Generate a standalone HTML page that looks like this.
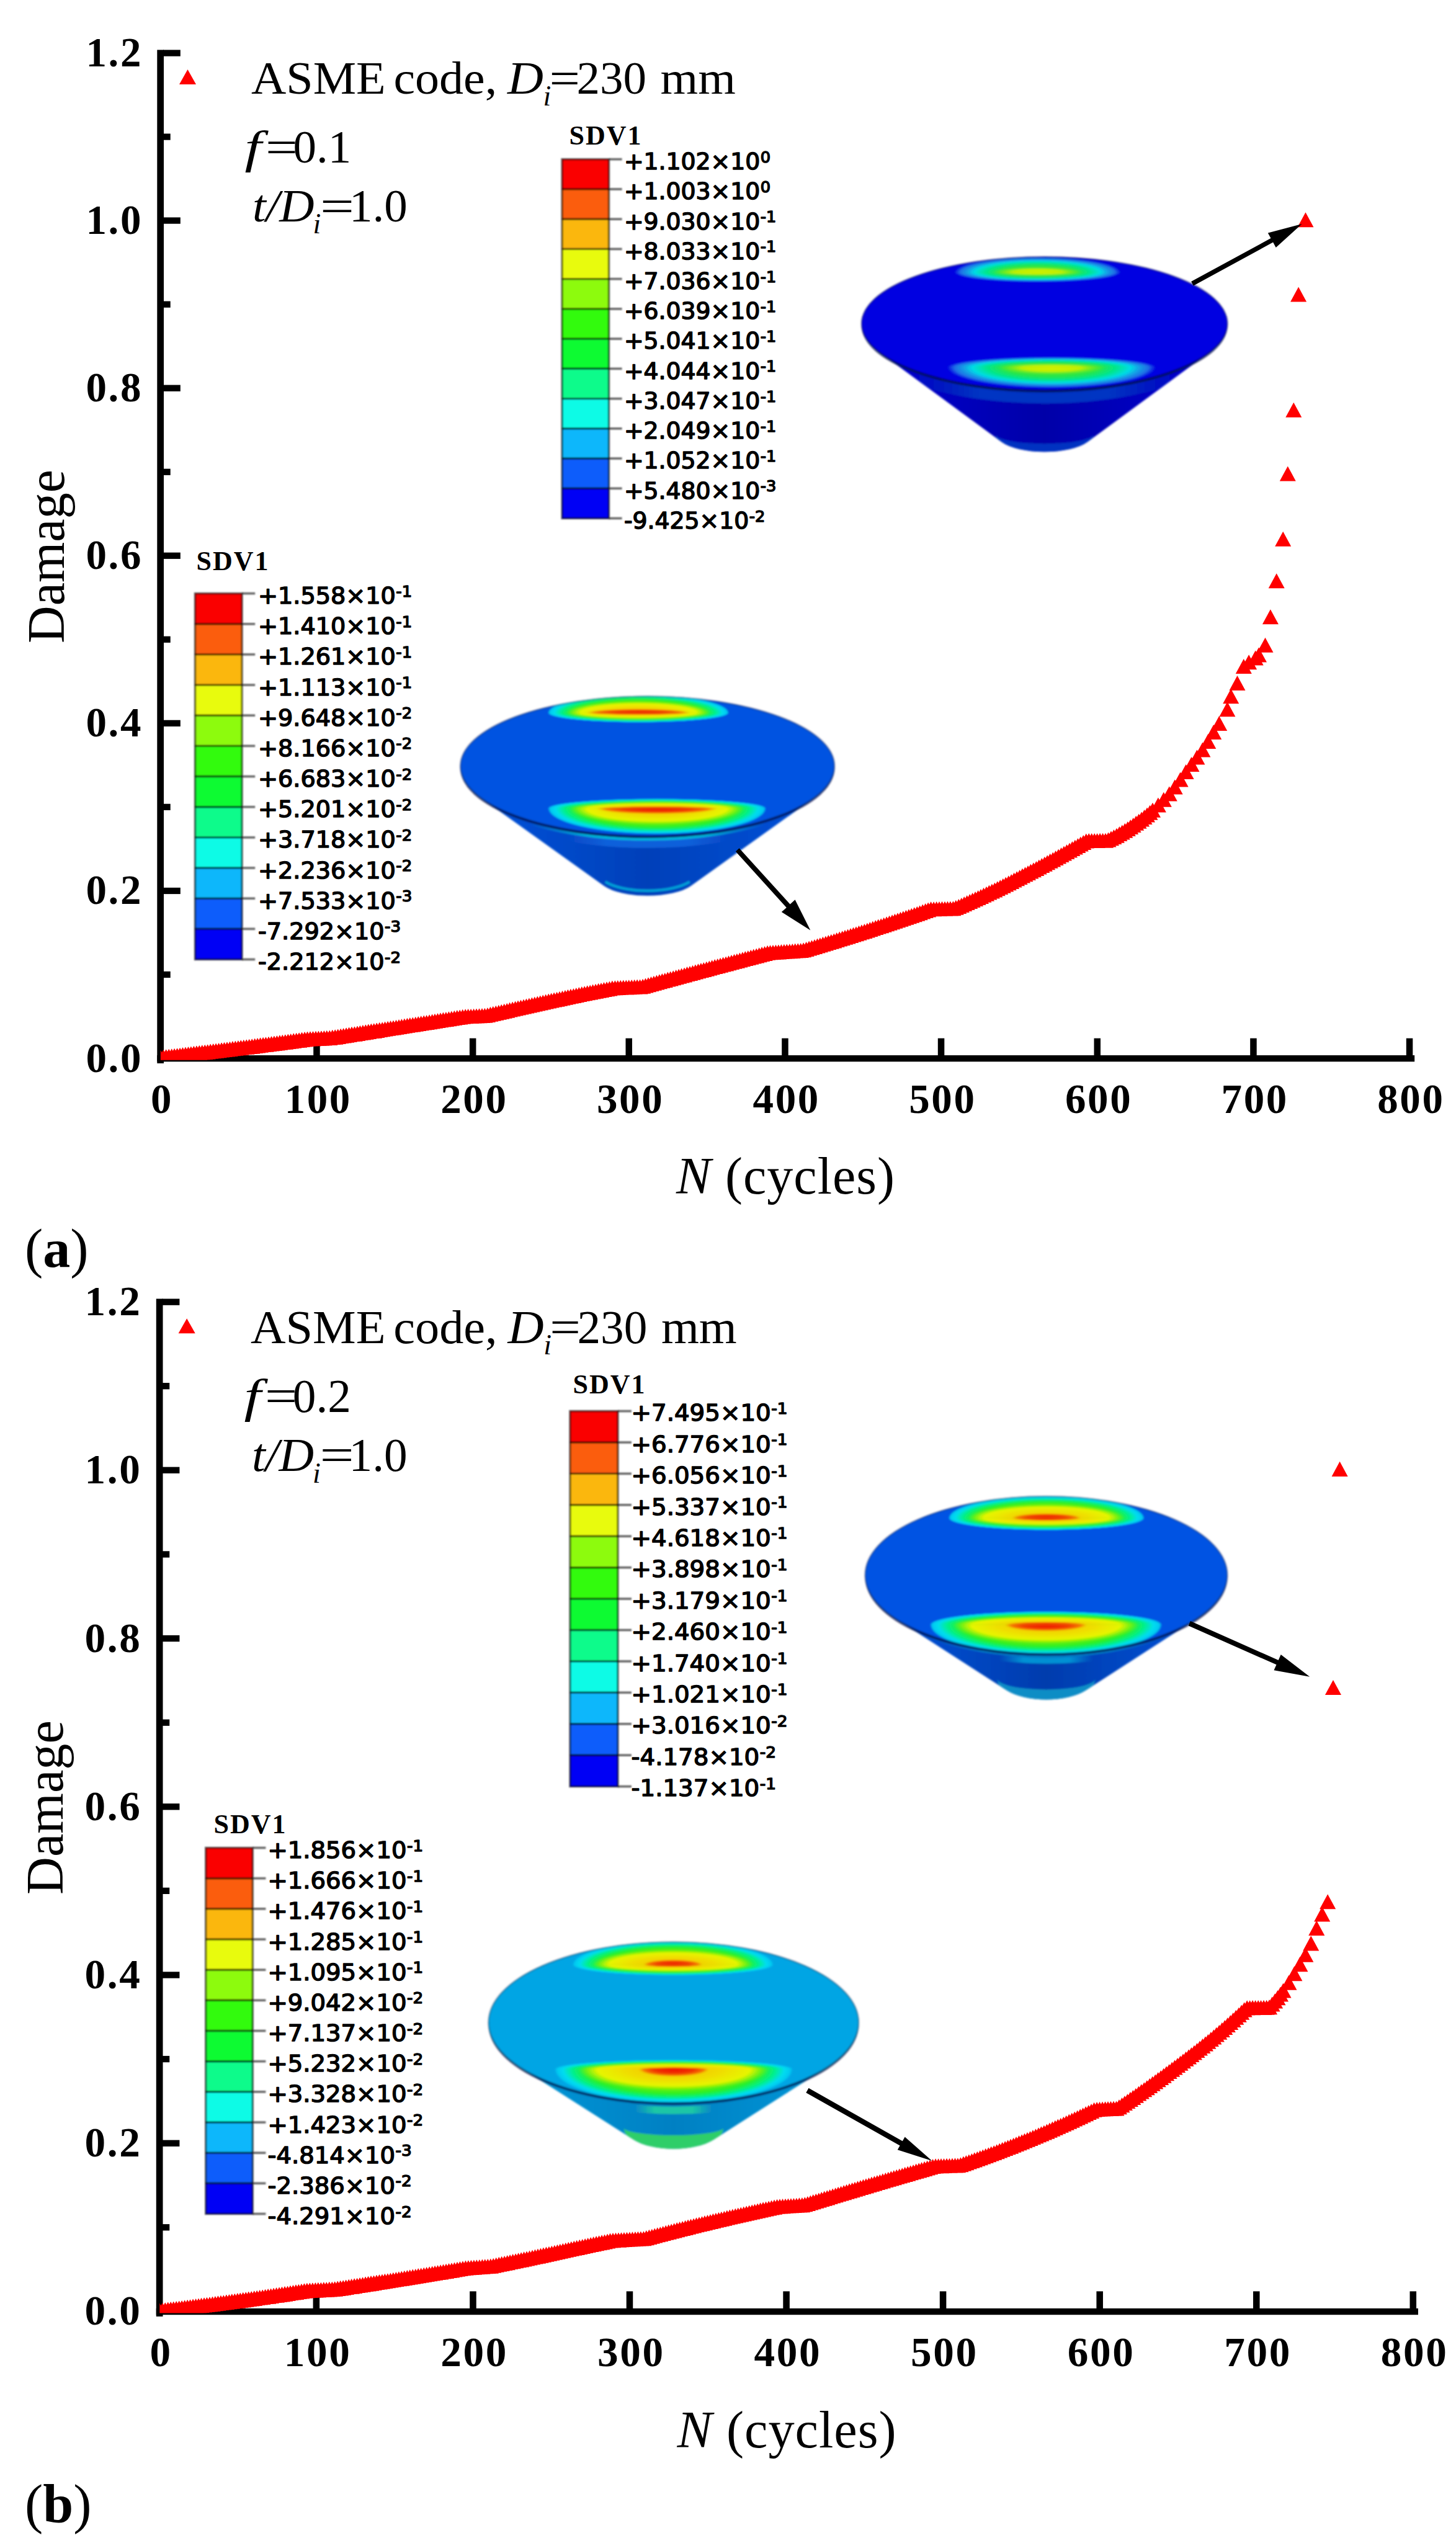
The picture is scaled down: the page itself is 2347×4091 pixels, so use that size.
<!DOCTYPE html>
<html lang="en"><head><meta charset="utf-8"><title>Damage evolution - ASME code</title>
<style>html,body{margin:0;padding:0;background:#fff}svg{display:block}</style></head><body>
<svg width="2347" height="4091" viewBox="0 0 2347 4091">
<defs>
<clipPath id="plotclip"><rect x="258.8" y="0" width="2100" height="1708.7"/></clipPath>
<filter id="soft" x="-5%" y="-5%" width="110%" height="110%"><feGaussianBlur stdDeviation="1.5"/></filter>
<filter id="soft2" x="-10%" y="-2%" width="150%" height="104%"><feGaussianBlur stdDeviation="0.9"/></filter>
<radialGradient id="rampGO"><stop offset="0" stop-color="#50e628"/><stop offset="0.45" stop-color="#28e646"/><stop offset="0.62" stop-color="#00e68c"/><stop offset="0.76" stop-color="#00dce6"/><stop offset="0.84" stop-color="#14a0e6"/><stop offset="0.93" stop-color="#1e6ee6"/><stop offset="1" stop-color="#1e6ee6" stop-opacity="0"/></radialGradient>
<radialGradient id="rampGM"><stop offset="0" stop-color="#d7f000"/><stop offset="0.55" stop-color="#c3f000"/><stop offset="1" stop-color="#78eb14" stop-opacity="0"/></radialGradient>
<radialGradient id="rampRO"><stop offset="0" stop-color="#a0f000"/><stop offset="0.55" stop-color="#78f000"/><stop offset="0.74" stop-color="#28f028"/><stop offset="0.85" stop-color="#00f08c"/><stop offset="0.93" stop-color="#00dcf0"/><stop offset="0.98" stop-color="#00c8f0"/><stop offset="1" stop-color="#00c8f0" stop-opacity="0"/></radialGradient>
<radialGradient id="rampRM"><stop offset="0" stop-color="#f5be00"/><stop offset="0.5" stop-color="#f0dc00"/><stop offset="0.8" stop-color="#e6f500"/><stop offset="1" stop-color="#b4f000" stop-opacity="0"/></radialGradient>
<radialGradient id="rampRC"><stop offset="0" stop-color="#f01000"/><stop offset="0.55" stop-color="#f03200"/><stop offset="0.85" stop-color="#f57800"/><stop offset="1" stop-color="#f5aa00" stop-opacity="0"/></radialGradient>
</defs>
<rect width="2347" height="4091" fill="#fff"/>
<g>
<g clip-path="url(#plotclip)"><path fill="#ff0000" d="M258.8 1692.6L271.8 1716.6L245.8 1716.6ZM263.3 1692.1L276.3 1716.1L250.3 1716.1ZM267.7 1691.6L280.7 1715.6L254.7 1715.6ZM272.2 1691L285.2 1715L259.2 1715ZM276.7 1690.5L289.7 1714.5L263.7 1714.5ZM281.1 1690L294.1 1714L268.1 1714ZM285.6 1689.4L298.6 1713.4L272.6 1713.4ZM290.1 1688.9L303.1 1712.9L277.1 1712.9ZM294.5 1688.3L307.5 1712.3L281.5 1712.3ZM299 1687.8L312 1711.8L286 1711.8ZM303.5 1687.2L316.5 1711.2L290.5 1711.2ZM307.9 1686.7L320.9 1710.7L294.9 1710.7ZM312.4 1686.1L325.4 1710.1L299.4 1710.1ZM316.9 1685.6L329.9 1709.6L303.9 1709.6ZM321.3 1685L334.3 1709L308.3 1709ZM325.8 1684.5L338.8 1708.5L312.8 1708.5ZM330.3 1683.9L343.3 1707.9L317.3 1707.9ZM334.7 1683.4L347.7 1707.4L321.7 1707.4ZM339.2 1682.8L352.2 1706.8L326.2 1706.8ZM343.7 1682.3L356.7 1706.3L330.7 1706.3ZM348.1 1681.7L361.1 1705.7L335.1 1705.7ZM352.6 1681.2L365.6 1705.2L339.6 1705.2ZM357.1 1680.6L370.1 1704.6L344.1 1704.6ZM361.5 1680L374.5 1704L348.5 1704ZM366 1679.5L379 1703.5L353 1703.5ZM370.5 1678.9L383.5 1702.9L357.5 1702.9ZM374.9 1678.3L387.9 1702.3L361.9 1702.3ZM379.4 1677.8L392.4 1701.8L366.4 1701.8ZM383.9 1677.2L396.9 1701.2L370.9 1701.2ZM388.3 1676.6L401.3 1700.6L375.3 1700.6ZM392.8 1676.1L405.8 1700.1L379.8 1700.1ZM397.3 1675.5L410.3 1699.5L384.3 1699.5ZM401.7 1674.9L414.7 1698.9L388.7 1698.9ZM406.2 1674.4L419.2 1698.4L393.2 1698.4ZM410.7 1673.8L423.7 1697.8L397.7 1697.8ZM415.1 1673.2L428.1 1697.2L402.1 1697.2ZM419.6 1672.6L432.6 1696.6L406.6 1696.6ZM424.1 1672.1L437.1 1696.1L411.1 1696.1ZM428.5 1671.5L441.5 1695.5L415.5 1695.5ZM433 1670.9L446 1694.9L420 1694.9ZM437.5 1670.3L450.5 1694.3L424.5 1694.3ZM441.9 1669.7L454.9 1693.7L428.9 1693.7ZM446.4 1669.2L459.4 1693.2L433.4 1693.2ZM450.9 1668.6L463.9 1692.6L437.9 1692.6ZM455.3 1668L468.3 1692L442.3 1692ZM459.8 1667.4L472.8 1691.4L446.8 1691.4ZM464.3 1666.8L477.3 1690.8L451.3 1690.8ZM468.7 1666.2L481.7 1690.2L455.7 1690.2ZM473.2 1665.6L486.2 1689.6L460.2 1689.6ZM477.7 1665L490.7 1689L464.7 1689ZM482.1 1664.4L495.1 1688.4L469.1 1688.4ZM486.6 1663.8L499.6 1687.8L473.6 1687.8ZM491.1 1663.2L504.1 1687.2L478.1 1687.2ZM495.5 1662.7L508.5 1686.7L482.5 1686.7ZM500 1662.4L513 1686.4L487 1686.4ZM504.5 1662.2L517.5 1686.2L491.5 1686.2ZM509 1662L522 1686L496 1686ZM513.4 1661.8L526.4 1685.8L500.4 1685.8ZM517.9 1661.5L530.9 1685.5L504.9 1685.5ZM522.4 1661.3L535.4 1685.3L509.4 1685.3ZM526.8 1661.1L539.8 1685.1L513.8 1685.1ZM531.3 1660.8L544.3 1684.8L518.3 1684.8ZM535.8 1660.1L548.8 1684.1L522.8 1684.1ZM540.2 1659.4L553.2 1683.4L527.2 1683.4ZM544.7 1658.7L557.7 1682.7L531.7 1682.7ZM549.2 1657.9L562.2 1681.9L536.2 1681.9ZM553.6 1657.2L566.6 1681.2L540.6 1681.2ZM558.1 1656.5L571.1 1680.5L545.1 1680.5ZM562.6 1655.8L575.6 1679.8L549.6 1679.8ZM567 1655.1L580 1679.1L554 1679.1ZM571.5 1654.4L584.5 1678.4L558.5 1678.4ZM576 1653.7L589 1677.7L563 1677.7ZM580.4 1652.9L593.4 1676.9L567.4 1676.9ZM584.9 1652.2L597.9 1676.2L571.9 1676.2ZM589.4 1651.5L602.4 1675.5L576.4 1675.5ZM593.8 1650.8L606.8 1674.8L580.8 1674.8ZM598.3 1650.1L611.3 1674.1L585.3 1674.1ZM602.8 1649.4L615.8 1673.4L589.8 1673.4ZM607.2 1648.7L620.2 1672.7L594.2 1672.7ZM611.7 1648L624.7 1672L598.7 1672ZM616.2 1647.2L629.2 1671.2L603.2 1671.2ZM620.6 1646.5L633.6 1670.5L607.6 1670.5ZM625.1 1645.8L638.1 1669.8L612.1 1669.8ZM629.6 1645.1L642.6 1669.1L616.6 1669.1ZM634 1644.4L647 1668.4L621 1668.4ZM638.5 1643.7L651.5 1667.7L625.5 1667.7ZM643 1643L656 1667L630 1667ZM647.4 1642.3L660.4 1666.3L634.4 1666.3ZM651.9 1641.6L664.9 1665.6L638.9 1665.6ZM656.4 1640.8L669.4 1664.8L643.4 1664.8ZM660.8 1640.1L673.8 1664.1L647.8 1664.1ZM665.3 1639.4L678.3 1663.4L652.3 1663.4ZM669.8 1638.7L682.8 1662.7L656.8 1662.7ZM674.2 1638L687.2 1662L661.2 1662ZM678.7 1637.3L691.7 1661.3L665.7 1661.3ZM683.2 1636.6L696.2 1660.6L670.2 1660.6ZM687.6 1635.9L700.6 1659.9L674.6 1659.9ZM692.1 1635.2L705.1 1659.2L679.1 1659.2ZM696.6 1634.5L709.6 1658.5L683.6 1658.5ZM701 1633.8L714 1657.8L688 1657.8ZM705.5 1633L718.5 1657L692.5 1657ZM710 1632.3L723 1656.3L697 1656.3ZM714.4 1631.6L727.4 1655.6L701.4 1655.6ZM718.9 1630.9L731.9 1654.9L705.9 1654.9ZM723.4 1630.2L736.4 1654.2L710.4 1654.2ZM727.8 1629.5L740.8 1653.5L714.8 1653.5ZM732.3 1628.8L745.3 1652.8L719.3 1652.8ZM736.8 1628.1L749.8 1652.1L723.8 1652.1ZM741.2 1627.4L754.2 1651.4L728.2 1651.4ZM745.7 1626.7L758.7 1650.7L732.7 1650.7ZM750.2 1626.3L763.2 1650.3L737.2 1650.3ZM754.6 1626.1L767.6 1650.1L741.6 1650.1ZM759.1 1625.9L772.1 1649.9L746.1 1649.9ZM763.6 1625.7L776.6 1649.7L750.6 1649.7ZM768 1625.4L781 1649.4L755 1649.4ZM772.5 1625.2L785.5 1649.2L759.5 1649.2ZM777 1625L790 1649L764 1649ZM781.4 1624.8L794.4 1648.8L768.4 1648.8ZM785.9 1623.9L798.9 1647.9L772.9 1647.9ZM790.4 1622.8L803.4 1646.8L777.4 1646.8ZM794.8 1621.8L807.8 1645.8L781.8 1645.8ZM799.3 1620.8L812.3 1644.8L786.3 1644.8ZM803.8 1619.7L816.8 1643.7L790.8 1643.7ZM808.2 1618.7L821.2 1642.7L795.2 1642.7ZM812.7 1617.7L825.7 1641.7L799.7 1641.7ZM817.2 1616.7L830.2 1640.7L804.2 1640.7ZM821.6 1615.6L834.6 1639.6L808.6 1639.6ZM826.1 1614.6L839.1 1638.6L813.1 1638.6ZM830.6 1613.6L843.6 1637.6L817.6 1637.6ZM835 1612.6L848 1636.6L822 1636.6ZM839.5 1611.6L852.5 1635.6L826.5 1635.6ZM844 1610.6L857 1634.6L831 1634.6ZM848.4 1609.6L861.4 1633.6L835.4 1633.6ZM852.9 1608.6L865.9 1632.6L839.9 1632.6ZM857.4 1607.6L870.4 1631.6L844.4 1631.6ZM861.8 1606.6L874.8 1630.6L848.8 1630.6ZM866.3 1605.6L879.3 1629.6L853.3 1629.6ZM870.8 1604.6L883.8 1628.6L857.8 1628.6ZM875.2 1603.6L888.2 1627.6L862.2 1627.6ZM879.7 1602.6L892.7 1626.6L866.7 1626.6ZM884.2 1601.6L897.2 1625.6L871.2 1625.6ZM888.6 1600.6L901.6 1624.6L875.6 1624.6ZM893.1 1599.6L906.1 1623.6L880.1 1623.6ZM897.6 1598.7L910.6 1622.7L884.6 1622.7ZM902 1597.7L915 1621.7L889 1621.7ZM906.5 1596.7L919.5 1620.7L893.5 1620.7ZM911 1595.7L924 1619.7L898 1619.7ZM915.4 1594.8L928.4 1618.8L902.4 1618.8ZM919.9 1593.8L932.9 1617.8L906.9 1617.8ZM924.4 1592.9L937.4 1616.9L911.4 1616.9ZM928.8 1592L941.8 1616L915.8 1616ZM933.3 1591L946.3 1615L920.3 1615ZM937.8 1590.1L950.8 1614.1L924.8 1614.1ZM942.2 1589.2L955.2 1613.2L929.2 1613.2ZM946.7 1588.3L959.7 1612.3L933.7 1612.3ZM951.2 1587.4L964.2 1611.4L938.2 1611.4ZM955.6 1586.6L968.6 1610.6L942.6 1610.6ZM960.1 1585.7L973.1 1609.7L947.1 1609.7ZM964.6 1584.8L977.6 1608.8L951.6 1608.8ZM969 1584L982 1608L956 1608ZM973.5 1583.1L986.5 1607.1L960.5 1607.1ZM978 1582.3L991 1606.3L965 1606.3ZM982.4 1581.4L995.4 1605.4L969.4 1605.4ZM986.9 1580.6L999.9 1604.6L973.9 1604.6ZM991.4 1580.2L1004.4 1604.2L978.4 1604.2ZM995.8 1580L1008.8 1604L982.8 1604ZM1000.3 1579.8L1013.3 1603.8L987.3 1603.8ZM1004.8 1579.6L1017.8 1603.6L991.8 1603.6ZM1009.3 1579.4L1022.3 1603.4L996.3 1603.4ZM1013.7 1579.2L1026.7 1603.2L1000.7 1603.2ZM1018.2 1579L1031.2 1603L1005.2 1603ZM1022.7 1578.8L1035.7 1602.8L1009.7 1602.8ZM1027.1 1578.6L1040.1 1602.6L1014.1 1602.6ZM1031.6 1578.4L1044.6 1602.4L1018.6 1602.4ZM1036.1 1577.7L1049.1 1601.7L1023.1 1601.7ZM1040.5 1576.4L1053.5 1600.4L1027.5 1600.4ZM1045 1575.2L1058 1599.2L1032 1599.2ZM1049.5 1574L1062.5 1598L1036.5 1598ZM1053.9 1572.8L1066.9 1596.8L1040.9 1596.8ZM1058.4 1571.5L1071.4 1595.5L1045.4 1595.5ZM1062.9 1570.3L1075.9 1594.3L1049.9 1594.3ZM1067.3 1569.1L1080.3 1593.1L1054.3 1593.1ZM1071.8 1567.9L1084.8 1591.9L1058.8 1591.9ZM1076.3 1566.6L1089.3 1590.6L1063.3 1590.6ZM1080.7 1565.4L1093.7 1589.4L1067.7 1589.4ZM1085.2 1564.2L1098.2 1588.2L1072.2 1588.2ZM1089.7 1563L1102.7 1587L1076.7 1587ZM1094.1 1561.8L1107.1 1585.8L1081.1 1585.8ZM1098.6 1560.6L1111.6 1584.6L1085.6 1584.6ZM1103.1 1559.4L1116.1 1583.4L1090.1 1583.4ZM1107.5 1558.1L1120.5 1582.1L1094.5 1582.1ZM1112 1556.9L1125 1580.9L1099 1580.9ZM1116.5 1555.7L1129.5 1579.7L1103.5 1579.7ZM1120.9 1554.5L1133.9 1578.5L1107.9 1578.5ZM1125.4 1553.3L1138.4 1577.3L1112.4 1577.3ZM1129.9 1552.1L1142.9 1576.1L1116.9 1576.1ZM1134.3 1550.9L1147.3 1574.9L1121.3 1574.9ZM1138.8 1549.7L1151.8 1573.7L1125.8 1573.7ZM1143.3 1548.5L1156.3 1572.5L1130.3 1572.5ZM1147.7 1547.3L1160.7 1571.3L1134.7 1571.3ZM1152.2 1546.1L1165.2 1570.1L1139.2 1570.1ZM1156.7 1545L1169.7 1569L1143.7 1569ZM1161.1 1543.8L1174.1 1567.8L1148.1 1567.8ZM1165.6 1542.6L1178.6 1566.6L1152.6 1566.6ZM1170.1 1541.4L1183.1 1565.4L1157.1 1565.4ZM1174.5 1540.2L1187.5 1564.2L1161.5 1564.2ZM1179 1539L1192 1563L1166 1563ZM1183.5 1537.8L1196.5 1561.8L1170.5 1561.8ZM1187.9 1536.7L1200.9 1560.7L1174.9 1560.7ZM1192.4 1535.5L1205.4 1559.5L1179.4 1559.5ZM1196.9 1534.3L1209.9 1558.3L1183.9 1558.3ZM1201.3 1533.1L1214.3 1557.1L1188.3 1557.1ZM1205.8 1531.9L1218.8 1555.9L1192.8 1555.9ZM1210.3 1530.8L1223.3 1554.8L1197.3 1554.8ZM1214.7 1529.6L1227.7 1553.6L1201.7 1553.6ZM1219.2 1528.4L1232.2 1552.4L1206.2 1552.4ZM1223.7 1527.3L1236.7 1551.3L1210.7 1551.3ZM1228.1 1526.1L1241.1 1550.1L1215.1 1550.1ZM1232.6 1524.9L1245.6 1548.9L1219.6 1548.9ZM1237.1 1523.8L1250.1 1547.8L1224.1 1547.8ZM1241.5 1523.3L1254.5 1547.3L1228.5 1547.3ZM1246 1523L1259 1547L1233 1547ZM1250.5 1522.7L1263.5 1546.7L1237.5 1546.7ZM1254.9 1522.4L1267.9 1546.4L1241.9 1546.4ZM1259.4 1522.1L1272.4 1546.1L1246.4 1546.1ZM1263.9 1521.8L1276.9 1545.8L1250.9 1545.8ZM1268.3 1521.5L1281.3 1545.5L1255.3 1545.5ZM1272.8 1521.2L1285.8 1545.2L1259.8 1545.2ZM1277.3 1520.9L1290.3 1544.9L1264.3 1544.9ZM1281.7 1520.6L1294.7 1544.6L1268.7 1544.6ZM1286.2 1520.3L1299.2 1544.3L1273.2 1544.3ZM1290.7 1520L1303.7 1544L1277.7 1544ZM1295.1 1519.2L1308.1 1543.2L1282.1 1543.2ZM1299.6 1517.9L1312.6 1541.9L1286.6 1541.9ZM1304.1 1516.6L1317.1 1540.6L1291.1 1540.6ZM1308.5 1515.2L1321.5 1539.2L1295.5 1539.2ZM1313 1513.9L1326 1537.9L1300 1537.9ZM1317.5 1512.5L1330.5 1536.5L1304.5 1536.5ZM1321.9 1511.2L1334.9 1535.2L1308.9 1535.2ZM1326.4 1509.8L1339.4 1533.8L1313.4 1533.8ZM1330.9 1508.5L1343.9 1532.5L1317.9 1532.5ZM1335.3 1507.1L1348.3 1531.1L1322.3 1531.1ZM1339.8 1505.7L1352.8 1529.7L1326.8 1529.7ZM1344.3 1504.4L1357.3 1528.4L1331.3 1528.4ZM1348.7 1503L1361.7 1527L1335.7 1527ZM1353.2 1501.6L1366.2 1525.6L1340.2 1525.6ZM1357.7 1500.2L1370.7 1524.2L1344.7 1524.2ZM1362.1 1498.8L1375.1 1522.8L1349.1 1522.8ZM1366.6 1497.4L1379.6 1521.4L1353.6 1521.4ZM1371.1 1496L1384.1 1520L1358.1 1520ZM1375.5 1494.6L1388.5 1518.6L1362.5 1518.6ZM1380 1493.2L1393 1517.2L1367 1517.2ZM1384.5 1491.7L1397.5 1515.7L1371.5 1515.7ZM1388.9 1490.3L1401.9 1514.3L1375.9 1514.3ZM1393.4 1488.9L1406.4 1512.9L1380.4 1512.9ZM1397.9 1487.4L1410.9 1511.4L1384.9 1511.4ZM1402.3 1486L1415.3 1510L1389.3 1510ZM1406.8 1484.5L1419.8 1508.5L1393.8 1508.5ZM1411.3 1483.1L1424.3 1507.1L1398.3 1507.1ZM1415.7 1481.6L1428.7 1505.6L1402.7 1505.6ZM1420.2 1480.2L1433.2 1504.2L1407.2 1504.2ZM1424.7 1478.7L1437.7 1502.7L1411.7 1502.7ZM1429.1 1477.2L1442.1 1501.2L1416.1 1501.2ZM1433.6 1475.8L1446.6 1499.8L1420.6 1499.8ZM1438.1 1474.3L1451.1 1498.3L1425.1 1498.3ZM1442.5 1472.8L1455.5 1496.8L1429.5 1496.8ZM1447 1471.3L1460 1495.3L1434 1495.3ZM1451.5 1469.8L1464.5 1493.8L1438.5 1493.8ZM1455.9 1468.3L1468.9 1492.3L1442.9 1492.3ZM1460.4 1466.8L1473.4 1490.8L1447.4 1490.8ZM1464.9 1465.3L1477.9 1489.3L1451.9 1489.3ZM1469.3 1463.7L1482.3 1487.7L1456.3 1487.7ZM1473.8 1462.2L1486.8 1486.2L1460.8 1486.2ZM1478.3 1460.7L1491.3 1484.7L1465.3 1484.7ZM1482.7 1459.2L1495.7 1483.2L1469.7 1483.2ZM1487.2 1457.6L1500.2 1481.6L1474.2 1481.6ZM1491.7 1456.1L1504.7 1480.1L1478.7 1480.1ZM1496.1 1454.5L1509.1 1478.5L1483.1 1478.5ZM1500.6 1453.3L1513.6 1477.3L1487.6 1477.3ZM1505.1 1453.2L1518.1 1477.2L1492.1 1477.2ZM1509.6 1453.1L1522.6 1477.1L1496.6 1477.1ZM1514 1452.9L1527 1476.9L1501 1476.9ZM1518.5 1452.8L1531.5 1476.8L1505.5 1476.8ZM1523 1452.7L1536 1476.7L1510 1476.7ZM1527.4 1452.6L1540.4 1476.6L1514.4 1476.6ZM1531.9 1452.4L1544.9 1476.4L1518.9 1476.4ZM1536.4 1452.3L1549.4 1476.3L1523.4 1476.3ZM1540.8 1450.8L1553.8 1474.8L1527.8 1474.8ZM1545.3 1448.9L1558.3 1472.9L1532.3 1472.9ZM1549.8 1446.9L1562.8 1470.9L1536.8 1470.9ZM1554.2 1445L1567.2 1469L1541.2 1469ZM1558.7 1443L1571.7 1467L1545.7 1467ZM1563.2 1441.1L1576.2 1465.1L1550.2 1465.1ZM1567.6 1439.1L1580.6 1463.1L1554.6 1463.1ZM1572.1 1437L1585.1 1461L1559.1 1461ZM1576.6 1435L1589.6 1459L1563.6 1459ZM1581 1432.9L1594 1456.9L1568 1456.9ZM1585.5 1430.8L1598.5 1454.8L1572.5 1454.8ZM1590 1428.8L1603 1452.8L1577 1452.8ZM1594.4 1426.6L1607.4 1450.6L1581.4 1450.6ZM1598.9 1424.5L1611.9 1448.5L1585.9 1448.5ZM1603.4 1422.4L1616.4 1446.4L1590.4 1446.4ZM1607.8 1420.2L1620.8 1444.2L1594.8 1444.2ZM1612.3 1418L1625.3 1442L1599.3 1442ZM1616.8 1415.8L1629.8 1439.8L1603.8 1439.8ZM1621.2 1413.5L1634.2 1437.5L1608.2 1437.5ZM1625.7 1411.2L1638.7 1435.2L1612.7 1435.2ZM1630.2 1408.9L1643.2 1432.9L1617.2 1432.9ZM1634.6 1406.6L1647.6 1430.6L1621.6 1430.6ZM1639.1 1404.3L1652.1 1428.3L1626.1 1428.3ZM1643.6 1402L1656.6 1426L1630.6 1426ZM1648 1399.6L1661 1423.6L1635 1423.6ZM1652.5 1397.3L1665.5 1421.3L1639.5 1421.3ZM1657 1395L1670 1419L1644 1419ZM1661.4 1392.6L1674.4 1416.6L1648.4 1416.6ZM1665.9 1390.2L1678.9 1414.2L1652.9 1414.2ZM1670.4 1387.9L1683.4 1411.9L1657.4 1411.9ZM1674.8 1385.5L1687.8 1409.5L1661.8 1409.5ZM1679.3 1383.1L1692.3 1407.1L1666.3 1407.1ZM1683.8 1380.7L1696.8 1404.7L1670.8 1404.7ZM1688.2 1378.3L1701.2 1402.3L1675.2 1402.3ZM1692.7 1375.8L1705.7 1399.8L1679.7 1399.8ZM1697.2 1373.4L1710.2 1397.4L1684.2 1397.4ZM1701.6 1371L1714.6 1395L1688.6 1395ZM1706.1 1368.5L1719.1 1392.5L1693.1 1392.5ZM1710.6 1366.1L1723.6 1390.1L1697.6 1390.1ZM1715 1363.6L1728 1387.6L1702 1387.6ZM1719.5 1361.1L1732.5 1385.1L1706.5 1385.1ZM1724 1358.6L1737 1382.6L1711 1382.6ZM1728.4 1356.1L1741.4 1380.1L1715.4 1380.1ZM1732.9 1353.6L1745.9 1377.6L1719.9 1377.6ZM1737.4 1351L1750.4 1375L1724.4 1375ZM1741.8 1348.5L1754.8 1372.5L1728.8 1372.5ZM1746.3 1346L1759.3 1370L1733.3 1370ZM1750.8 1343.4L1763.8 1367.4L1737.8 1367.4ZM1755.2 1343.1L1768.2 1367.1L1742.2 1367.1ZM1759.7 1343L1772.7 1367L1746.7 1367ZM1764.2 1343L1777.2 1367L1751.2 1367ZM1768.6 1342.9L1781.6 1366.9L1755.6 1366.9ZM1773.1 1342.8L1786.1 1366.8L1760.1 1366.8ZM1777.6 1342.7L1790.6 1366.7L1764.6 1366.7ZM1782 1342.7L1795 1366.7L1769 1366.7ZM1786.5 1341.4L1799.5 1365.4L1773.5 1365.4ZM1791 1339.3L1804 1363.3L1778 1363.3ZM1795.4 1337L1808.4 1361L1782.4 1361ZM1799.9 1334.7L1812.9 1358.7L1786.9 1358.7ZM1804.4 1332.1L1817.4 1356.1L1791.4 1356.1ZM1808.8 1329.5L1821.8 1353.5L1795.8 1353.5ZM1813.3 1326.8L1826.3 1350.8L1800.3 1350.8ZM1817.8 1323.9L1830.8 1347.9L1804.8 1347.9ZM1822.2 1321L1835.2 1345L1809.2 1345ZM1826.7 1318L1839.7 1342L1813.7 1342ZM1831.2 1314.8L1844.2 1338.8L1818.2 1338.8ZM1835.6 1311.7L1848.6 1335.7L1822.6 1335.7ZM1840.1 1308.4L1853.1 1332.4L1827.1 1332.4ZM1844.6 1305L1857.6 1329L1831.6 1329ZM1849 1301.4L1862 1325.4L1836 1325.4ZM1853.5 1297.7L1866.5 1321.7L1840.5 1321.7ZM1858 1293.8L1871 1317.8L1845 1317.8ZM1866.9 1285.6L1879.9 1309.6L1853.9 1309.6ZM1875.8 1276.8L1888.8 1300.8L1862.8 1300.8ZM1884.8 1267.4L1897.8 1291.4L1871.8 1291.4ZM1893.7 1256.6L1906.7 1280.6L1880.7 1280.6ZM1902.6 1244.6L1915.6 1268.6L1889.6 1268.6ZM1911.6 1232L1924.6 1256L1898.6 1256ZM1920.5 1220L1933.5 1244L1907.5 1244ZM1929.4 1208.5L1942.4 1232.5L1916.4 1232.5ZM1938.4 1196.5L1951.4 1220.5L1925.4 1220.5ZM1947.3 1183L1960.3 1207L1934.3 1207ZM1956.2 1168.1L1969.2 1192.1L1943.2 1192.1ZM1965.2 1154L1978.2 1178L1952.2 1178ZM1978.4 1131.3L1991.4 1155.3L1965.4 1155.3ZM1984.2 1110.2L1997.2 1134.2L1971.2 1134.2ZM1994.5 1089L2007.5 1113L1981.5 1113ZM2004.8 1062L2017.8 1086L1991.8 1086ZM2013.1 1055.3L2026.1 1079.3L2000.1 1079.3ZM2023.7 1048.5L2036.7 1072.5L2010.7 1072.5ZM2029 1043.6L2042 1067.6L2016 1067.6ZM2039.5 1027.7L2052.5 1051.7L2026.5 1051.7ZM2047.9 982.3L2060.9 1006.3L2034.9 1006.3ZM2057.7 924.3L2070.7 948.3L2044.7 948.3ZM2068.2 856.8L2081.2 880.8L2055.2 880.8ZM2075.8 751.4L2088.8 775.4L2062.8 775.4ZM2085.3 648.8L2098.3 672.8L2072.3 672.8ZM2093.1 462.4L2106.1 486.4L2080.1 486.4ZM2104.5 342.2L2117.5 366.2L2091.5 366.2Z"/></g>
<g fill="#000">
<rect x="253.3" y="80.4" width="10.7" height="1633.6"/>
<rect x="253.3" y="1701" width="2026.9" height="10.3"/>
<rect x="263" y="1565.8" width="11.7" height="10.3"/>
<rect x="263" y="1430.8" width="27.8" height="10.3"/>
<rect x="263" y="1295.7" width="11.7" height="10.3"/>
<rect x="263" y="1160.7" width="27.8" height="10.3"/>
<rect x="263" y="1025.6" width="11.7" height="10.3"/>
<rect x="263" y="890.6" width="27.8" height="10.3"/>
<rect x="263" y="755.6" width="11.7" height="10.3"/>
<rect x="263" y="620.5" width="27.8" height="10.3"/>
<rect x="263" y="485.5" width="11.7" height="10.3"/>
<rect x="263" y="350.4" width="27.8" height="10.3"/>
<rect x="263" y="215.4" width="11.7" height="10.3"/>
<rect x="263" y="80.4" width="27.8" height="10.3"/>
<rect x="505.2" y="1673.6" width="10.5" height="28.4"/>
<rect x="756.9" y="1673.6" width="10.5" height="28.4"/>
<rect x="1008.5" y="1673.6" width="10.5" height="28.4"/>
<rect x="1260.2" y="1673.6" width="10.5" height="28.4"/>
<rect x="1511.8" y="1673.6" width="10.5" height="28.4"/>
<rect x="1763.5" y="1673.6" width="10.5" height="28.4"/>
<rect x="2015.2" y="1673.6" width="10.5" height="28.4"/>
<rect x="2266.8" y="1673.6" width="10.5" height="28.4"/>
</g>
<g clip-path="url(#plotclip)"><path fill="#ff0000" d="M258.8 1692.6L271.8 1716.6L245.8 1716.6ZM263.3 1692.1L276.3 1716.1L250.3 1716.1ZM267.7 1691.6L280.7 1715.6L254.7 1715.6ZM272.2 1691L285.2 1715L259.2 1715ZM276.7 1690.5L289.7 1714.5L263.7 1714.5ZM281.1 1690L294.1 1714L268.1 1714ZM285.6 1689.4L298.6 1713.4L272.6 1713.4ZM290.1 1688.9L303.1 1712.9L277.1 1712.9ZM294.5 1688.3L307.5 1712.3L281.5 1712.3ZM299 1687.8L312 1711.8L286 1711.8ZM303.5 1687.2L316.5 1711.2L290.5 1711.2ZM307.9 1686.7L320.9 1710.7L294.9 1710.7ZM312.4 1686.1L325.4 1710.1L299.4 1710.1ZM316.9 1685.6L329.9 1709.6L303.9 1709.6ZM321.3 1685L334.3 1709L308.3 1709ZM325.8 1684.5L338.8 1708.5L312.8 1708.5ZM330.3 1683.9L343.3 1707.9L317.3 1707.9ZM334.7 1683.4L347.7 1707.4L321.7 1707.4ZM339.2 1682.8L352.2 1706.8L326.2 1706.8ZM343.7 1682.3L356.7 1706.3L330.7 1706.3ZM348.1 1681.7L361.1 1705.7L335.1 1705.7ZM352.6 1681.2L365.6 1705.2L339.6 1705.2ZM357.1 1680.6L370.1 1704.6L344.1 1704.6ZM361.5 1680L374.5 1704L348.5 1704ZM366 1679.5L379 1703.5L353 1703.5ZM370.5 1678.9L383.5 1702.9L357.5 1702.9ZM374.9 1678.3L387.9 1702.3L361.9 1702.3ZM379.4 1677.8L392.4 1701.8L366.4 1701.8ZM383.9 1677.2L396.9 1701.2L370.9 1701.2ZM388.3 1676.6L401.3 1700.6L375.3 1700.6ZM392.8 1676.1L405.8 1700.1L379.8 1700.1ZM397.3 1675.5L410.3 1699.5L384.3 1699.5ZM401.7 1674.9L414.7 1698.9L388.7 1698.9ZM406.2 1674.4L419.2 1698.4L393.2 1698.4ZM410.7 1673.8L423.7 1697.8L397.7 1697.8ZM415.1 1673.2L428.1 1697.2L402.1 1697.2ZM419.6 1672.6L432.6 1696.6L406.6 1696.6ZM424.1 1672.1L437.1 1696.1L411.1 1696.1ZM428.5 1671.5L441.5 1695.5L415.5 1695.5ZM433 1670.9L446 1694.9L420 1694.9ZM437.5 1670.3L450.5 1694.3L424.5 1694.3ZM441.9 1669.7L454.9 1693.7L428.9 1693.7ZM446.4 1669.2L459.4 1693.2L433.4 1693.2ZM450.9 1668.6L463.9 1692.6L437.9 1692.6ZM455.3 1668L468.3 1692L442.3 1692ZM459.8 1667.4L472.8 1691.4L446.8 1691.4ZM464.3 1666.8L477.3 1690.8L451.3 1690.8ZM468.7 1666.2L481.7 1690.2L455.7 1690.2ZM473.2 1665.6L486.2 1689.6L460.2 1689.6ZM477.7 1665L490.7 1689L464.7 1689ZM482.1 1664.4L495.1 1688.4L469.1 1688.4ZM486.6 1663.8L499.6 1687.8L473.6 1687.8ZM491.1 1663.2L504.1 1687.2L478.1 1687.2ZM495.5 1662.7L508.5 1686.7L482.5 1686.7ZM500 1662.4L513 1686.4L487 1686.4ZM504.5 1662.2L517.5 1686.2L491.5 1686.2ZM509 1662L522 1686L496 1686ZM513.4 1661.8L526.4 1685.8L500.4 1685.8ZM517.9 1661.5L530.9 1685.5L504.9 1685.5ZM522.4 1661.3L535.4 1685.3L509.4 1685.3ZM526.8 1661.1L539.8 1685.1L513.8 1685.1ZM531.3 1660.8L544.3 1684.8L518.3 1684.8ZM535.8 1660.1L548.8 1684.1L522.8 1684.1ZM540.2 1659.4L553.2 1683.4L527.2 1683.4ZM544.7 1658.7L557.7 1682.7L531.7 1682.7ZM549.2 1657.9L562.2 1681.9L536.2 1681.9ZM553.6 1657.2L566.6 1681.2L540.6 1681.2ZM558.1 1656.5L571.1 1680.5L545.1 1680.5ZM562.6 1655.8L575.6 1679.8L549.6 1679.8ZM567 1655.1L580 1679.1L554 1679.1ZM571.5 1654.4L584.5 1678.4L558.5 1678.4ZM576 1653.7L589 1677.7L563 1677.7ZM580.4 1652.9L593.4 1676.9L567.4 1676.9ZM584.9 1652.2L597.9 1676.2L571.9 1676.2ZM589.4 1651.5L602.4 1675.5L576.4 1675.5ZM593.8 1650.8L606.8 1674.8L580.8 1674.8ZM598.3 1650.1L611.3 1674.1L585.3 1674.1ZM602.8 1649.4L615.8 1673.4L589.8 1673.4ZM607.2 1648.7L620.2 1672.7L594.2 1672.7ZM611.7 1648L624.7 1672L598.7 1672Z"/></g>
<g font-family='"Liberation Serif", serif' font-weight="bold" font-size="67" letter-spacing="2.6" fill="#000">
<text x="230" y="1727.5" text-anchor="end">0.0</text>
<text x="230" y="1457.4" text-anchor="end">0.2</text>
<text x="230" y="1187.3" text-anchor="end">0.4</text>
<text x="230" y="917.3" text-anchor="end">0.6</text>
<text x="230" y="647.2" text-anchor="end">0.8</text>
<text x="230" y="377.1" text-anchor="end">1.0</text>
<text x="230" y="107" text-anchor="end">1.2</text>
<text x="261.1" y="1793.7" text-anchor="middle">0</text>
<text x="512.8" y="1793.7" text-anchor="middle">100</text>
<text x="764.4" y="1793.7" text-anchor="middle">200</text>
<text x="1016.1" y="1793.7" text-anchor="middle">300</text>
<text x="1267.7" y="1793.7" text-anchor="middle">400</text>
<text x="1519.4" y="1793.7" text-anchor="middle">500</text>
<text x="1771.1" y="1793.7" text-anchor="middle">600</text>
<text x="2022.7" y="1793.7" text-anchor="middle">700</text>
<text x="2274.4" y="1793.7" text-anchor="middle">800</text>
</g>
<g font-family='"Liberation Serif", serif' font-size="84" fill="#000">
<text transform="translate(103.2 897) rotate(-90)" text-anchor="middle">Damage</text>
<text x="1266.5" y="1924.2" text-anchor="middle" letter-spacing="1"><tspan font-style="italic">N</tspan> (cycles)</text>
</g>
<path fill="#ff0000" d="M302.5 112L316 136L289 136Z"/>
<g font-family='"Liberation Serif", serif' font-size="75" fill="#000">
<text transform="translate(405 151.2) scale(1.04 1)" >ASME</text>
<text transform="translate(634.5 151.2) scale(1.04 1)" >code,</text>
<text transform="translate(818 151.2) scale(1.07 1)" font-style="italic">D</text>
<text transform="translate(875.5 170) scale(1.0 1)" font-style="italic" font-size="46">i</text>
<text transform="translate(885.5 151.2) scale(1.17 1)" >=</text>
<text transform="translate(929.5 151.2) scale(1.0 1)" >230</text>
<text transform="translate(1064.5 151.2) scale(1.04 1)" >mm</text>
<text transform="translate(394.5 261.7) scale(1.3 1)" font-style="italic">f</text>
<text transform="translate(428 261.7) scale(1.23 1)" >=</text>
<text transform="translate(472.5 261.7) scale(1.0 1)" >0.1</text>
<text transform="translate(407 356.9) scale(1.04 1)" font-style="italic">t/D</text>
<text transform="translate(504.5 375.7) scale(1.0 1)" font-style="italic" font-size="46">i</text>
<text transform="translate(516 356.9) scale(1.3 1)" >=</text>
<text transform="translate(563 356.9) scale(1.0 1)" >1.0</text>
</g>
</g>
<g transform="translate(-2.43 2012.74) scale(1.0036 1.0042)">
<g clip-path="url(#plotclip)"><path fill="#ff0000" d="M258.8 1692.6L271.8 1716.6L245.8 1716.6ZM263.3 1692.1L276.3 1716.1L250.3 1716.1ZM267.7 1691.6L280.7 1715.6L254.7 1715.6ZM272.2 1691L285.2 1715L259.2 1715ZM276.7 1690.5L289.7 1714.5L263.7 1714.5ZM281.1 1690L294.1 1714L268.1 1714ZM285.6 1689.4L298.6 1713.4L272.6 1713.4ZM290.1 1688.8L303.1 1712.8L277.1 1712.8ZM294.5 1688.3L307.5 1712.3L281.5 1712.3ZM299 1687.7L312 1711.7L286 1711.7ZM303.5 1687.2L316.5 1711.2L290.5 1711.2ZM307.9 1686.6L320.9 1710.6L294.9 1710.6ZM312.4 1686L325.4 1710L299.4 1710ZM316.9 1685.5L329.9 1709.5L303.9 1709.5ZM321.3 1684.9L334.3 1708.9L308.3 1708.9ZM325.8 1684.3L338.8 1708.3L312.8 1708.3ZM330.3 1683.7L343.3 1707.7L317.3 1707.7ZM334.7 1683.1L347.7 1707.1L321.7 1707.1ZM339.2 1682.6L352.2 1706.6L326.2 1706.6ZM343.7 1682L356.7 1706L330.7 1706ZM348.1 1681.4L361.1 1705.4L335.1 1705.4ZM352.6 1680.8L365.6 1704.8L339.6 1704.8ZM357.1 1680.2L370.1 1704.2L344.1 1704.2ZM361.5 1679.6L374.5 1703.6L348.5 1703.6ZM366 1679L379 1703L353 1703ZM370.5 1678.4L383.5 1702.4L357.5 1702.4ZM374.9 1677.8L387.9 1701.8L361.9 1701.8ZM379.4 1677.2L392.4 1701.2L366.4 1701.2ZM383.9 1676.5L396.9 1700.5L370.9 1700.5ZM388.3 1675.9L401.3 1699.9L375.3 1699.9ZM392.8 1675.3L405.8 1699.3L379.8 1699.3ZM397.3 1674.7L410.3 1698.7L384.3 1698.7ZM401.7 1674.1L414.7 1698.1L388.7 1698.1ZM406.2 1673.4L419.2 1697.4L393.2 1697.4ZM410.7 1672.8L423.7 1696.8L397.7 1696.8ZM415.1 1672.2L428.1 1696.2L402.1 1696.2ZM419.6 1671.5L432.6 1695.5L406.6 1695.5ZM424.1 1670.9L437.1 1694.9L411.1 1694.9ZM428.5 1670.2L441.5 1694.2L415.5 1694.2ZM433 1669.6L446 1693.6L420 1693.6ZM437.5 1668.9L450.5 1692.9L424.5 1692.9ZM441.9 1668.2L454.9 1692.2L428.9 1692.2ZM446.4 1667.6L459.4 1691.6L433.4 1691.6ZM450.9 1666.9L463.9 1690.9L437.9 1690.9ZM455.3 1666.3L468.3 1690.3L442.3 1690.3ZM459.8 1665.6L472.8 1689.6L446.8 1689.6ZM464.3 1664.9L477.3 1688.9L451.3 1688.9ZM468.7 1664.2L481.7 1688.2L455.7 1688.2ZM473.2 1663.5L486.2 1687.5L460.2 1687.5ZM477.7 1662.9L490.7 1686.9L464.7 1686.9ZM482.1 1662.2L495.1 1686.2L469.1 1686.2ZM486.6 1661.5L499.6 1685.5L473.6 1685.5ZM491.1 1660.8L504.1 1684.8L478.1 1684.8ZM495.5 1660.4L508.5 1684.4L482.5 1684.4ZM500 1660.1L513 1684.1L487 1684.1ZM504.5 1659.9L517.5 1683.9L491.5 1683.9ZM509 1659.6L522 1683.6L496 1683.6ZM513.4 1659.4L526.4 1683.4L500.4 1683.4ZM517.9 1659.2L530.9 1683.2L504.9 1683.2ZM522.4 1658.9L535.4 1682.9L509.4 1682.9ZM526.8 1658.7L539.8 1682.7L513.8 1682.7ZM531.3 1658.4L544.3 1682.4L518.3 1682.4ZM535.8 1658.2L548.8 1682.2L522.8 1682.2ZM540.2 1657.8L553.2 1681.8L527.2 1681.8ZM544.7 1657.1L557.7 1681.1L531.7 1681.1ZM549.2 1656.4L562.2 1680.4L536.2 1680.4ZM553.6 1655.7L566.6 1679.7L540.6 1679.7ZM558.1 1655L571.1 1679L545.1 1679ZM562.6 1654.3L575.6 1678.3L549.6 1678.3ZM567 1653.6L580 1677.6L554 1677.6ZM571.5 1652.9L584.5 1676.9L558.5 1676.9ZM576 1652.2L589 1676.2L563 1676.2ZM580.4 1651.5L593.4 1675.5L567.4 1675.5ZM584.9 1650.8L597.9 1674.8L571.9 1674.8ZM589.4 1650.1L602.4 1674.1L576.4 1674.1ZM593.8 1649.4L606.8 1673.4L580.8 1673.4ZM598.3 1648.7L611.3 1672.7L585.3 1672.7ZM602.8 1648L615.8 1672L589.8 1672ZM607.2 1647.3L620.2 1671.3L594.2 1671.3ZM611.7 1646.6L624.7 1670.6L598.7 1670.6ZM616.2 1645.9L629.2 1669.9L603.2 1669.9ZM620.6 1645.2L633.6 1669.2L607.6 1669.2ZM625.1 1644.5L638.1 1668.5L612.1 1668.5ZM629.6 1643.8L642.6 1667.8L616.6 1667.8ZM634 1643L647 1667L621 1667ZM638.5 1642.3L651.5 1666.3L625.5 1666.3ZM643 1641.6L656 1665.6L630 1665.6ZM647.4 1640.9L660.4 1664.9L634.4 1664.9ZM651.9 1640.2L664.9 1664.2L638.9 1664.2ZM656.4 1639.4L669.4 1663.4L643.4 1663.4ZM660.8 1638.7L673.8 1662.7L647.8 1662.7ZM665.3 1638L678.3 1662L652.3 1662ZM669.8 1637.3L682.8 1661.3L656.8 1661.3ZM674.2 1636.5L687.2 1660.5L661.2 1660.5ZM678.7 1635.8L691.7 1659.8L665.7 1659.8ZM683.2 1635.1L696.2 1659.1L670.2 1659.1ZM687.6 1634.4L700.6 1658.4L674.6 1658.4ZM692.1 1633.6L705.1 1657.6L679.1 1657.6ZM696.6 1632.9L709.6 1656.9L683.6 1656.9ZM701 1632.1L714 1656.1L688 1656.1ZM705.5 1631.4L718.5 1655.4L692.5 1655.4ZM710 1630.7L723 1654.7L697 1654.7ZM714.4 1629.9L727.4 1653.9L701.4 1653.9ZM718.9 1629.2L731.9 1653.2L705.9 1653.2ZM723.4 1628.4L736.4 1652.4L710.4 1652.4ZM727.8 1627.7L740.8 1651.7L714.8 1651.7ZM732.3 1626.9L745.3 1650.9L719.3 1650.9ZM736.8 1626.2L749.8 1650.2L723.8 1650.2ZM741.2 1625.4L754.2 1649.4L728.2 1649.4ZM745.7 1624.7L758.7 1648.7L732.7 1648.7ZM750.2 1624L763.2 1648L737.2 1648ZM754.6 1623.7L767.6 1647.7L741.6 1647.7ZM759.1 1623.3L772.1 1647.3L746.1 1647.3ZM763.6 1623L776.6 1647L750.6 1647ZM768 1622.7L781 1646.7L755 1646.7ZM772.5 1622.4L785.5 1646.4L759.5 1646.4ZM777 1622L790 1646L764 1646ZM781.4 1621.7L794.4 1645.7L768.4 1645.7ZM785.9 1621.4L798.9 1645.4L772.9 1645.4ZM790.4 1621L803.4 1645L777.4 1645ZM794.8 1620.1L807.8 1644.1L781.8 1644.1ZM799.3 1619.1L812.3 1643.1L786.3 1643.1ZM803.8 1618.2L816.8 1642.2L790.8 1642.2ZM808.2 1617.3L821.2 1641.3L795.2 1641.3ZM812.7 1616.4L825.7 1640.4L799.7 1640.4ZM817.2 1615.5L830.2 1639.5L804.2 1639.5ZM821.6 1614.5L834.6 1638.5L808.6 1638.5ZM826.1 1613.6L839.1 1637.6L813.1 1637.6ZM830.6 1612.7L843.6 1636.7L817.6 1636.7ZM835 1611.7L848 1635.7L822 1635.7ZM839.5 1610.8L852.5 1634.8L826.5 1634.8ZM844 1609.8L857 1633.8L831 1633.8ZM848.4 1608.9L861.4 1632.9L835.4 1632.9ZM852.9 1607.9L865.9 1631.9L839.9 1631.9ZM857.4 1607L870.4 1631L844.4 1631ZM861.8 1606L874.8 1630L848.8 1630ZM866.3 1605.1L879.3 1629.1L853.3 1629.1ZM870.8 1604.1L883.8 1628.1L857.8 1628.1ZM875.2 1603.1L888.2 1627.1L862.2 1627.1ZM879.7 1602.1L892.7 1626.1L866.7 1626.1ZM884.2 1601.2L897.2 1625.2L871.2 1625.2ZM888.6 1600.2L901.6 1624.2L875.6 1624.2ZM893.1 1599.2L906.1 1623.2L880.1 1623.2ZM897.6 1598.2L910.6 1622.2L884.6 1622.2ZM902 1597.2L915 1621.2L889 1621.2ZM906.5 1596.2L919.5 1620.2L893.5 1620.2ZM911 1595.3L924 1619.3L898 1619.3ZM915.4 1594.3L928.4 1618.3L902.4 1618.3ZM919.9 1593.3L932.9 1617.3L906.9 1617.3ZM924.4 1592.3L937.4 1616.3L911.4 1616.3ZM928.8 1591.4L941.8 1615.4L915.8 1615.4ZM933.3 1590.4L946.3 1614.4L920.3 1614.4ZM937.8 1589.5L950.8 1613.5L924.8 1613.5ZM942.2 1588.5L955.2 1612.5L929.2 1612.5ZM946.7 1587.6L959.7 1611.6L933.7 1611.6ZM951.2 1586.6L964.2 1610.6L938.2 1610.6ZM955.6 1585.7L968.6 1609.7L942.6 1609.7ZM960.1 1584.7L973.1 1608.7L947.1 1608.7ZM964.6 1583.8L977.6 1607.8L951.6 1607.8ZM969 1582.9L982 1606.9L956 1606.9ZM973.5 1582L986.5 1606L960.5 1606ZM978 1581L991 1605L965 1605ZM982.4 1580.1L995.4 1604.1L969.4 1604.1ZM986.9 1579.7L999.9 1603.7L973.9 1603.7ZM991.4 1579.4L1004.4 1603.4L978.4 1603.4ZM995.8 1579.2L1008.8 1603.2L982.8 1603.2ZM1000.3 1578.9L1013.3 1602.9L987.3 1602.9ZM1004.8 1578.6L1017.8 1602.6L991.8 1602.6ZM1009.3 1578.4L1022.3 1602.4L996.3 1602.4ZM1013.7 1578.1L1026.7 1602.1L1000.7 1602.1ZM1018.2 1577.9L1031.2 1601.9L1005.2 1601.9ZM1022.7 1577.6L1035.7 1601.6L1009.7 1601.6ZM1027.1 1577.3L1040.1 1601.3L1014.1 1601.3ZM1031.6 1577.1L1044.6 1601.1L1018.6 1601.1ZM1036.1 1576.8L1049.1 1600.8L1023.1 1600.8ZM1040.5 1575.7L1053.5 1599.7L1027.5 1599.7ZM1045 1574.5L1058 1598.5L1032 1598.5ZM1049.5 1573.3L1062.5 1597.3L1036.5 1597.3ZM1053.9 1572.1L1066.9 1596.1L1040.9 1596.1ZM1058.4 1570.9L1071.4 1594.9L1045.4 1594.9ZM1062.9 1569.8L1075.9 1593.8L1049.9 1593.8ZM1067.3 1568.6L1080.3 1592.6L1054.3 1592.6ZM1071.8 1567.4L1084.8 1591.4L1058.8 1591.4ZM1076.3 1566.3L1089.3 1590.3L1063.3 1590.3ZM1080.7 1565.1L1093.7 1589.1L1067.7 1589.1ZM1085.2 1564L1098.2 1588L1072.2 1588ZM1089.7 1562.8L1102.7 1586.8L1076.7 1586.8ZM1094.1 1561.7L1107.1 1585.7L1081.1 1585.7ZM1098.6 1560.6L1111.6 1584.6L1085.6 1584.6ZM1103.1 1559.5L1116.1 1583.5L1090.1 1583.5ZM1107.5 1558.3L1120.5 1582.3L1094.5 1582.3ZM1112 1557.2L1125 1581.2L1099 1581.2ZM1116.5 1556.1L1129.5 1580.1L1103.5 1580.1ZM1120.9 1555L1133.9 1579L1107.9 1579ZM1125.4 1554L1138.4 1578L1112.4 1578ZM1129.9 1552.9L1142.9 1576.9L1116.9 1576.9ZM1134.3 1551.8L1147.3 1575.8L1121.3 1575.8ZM1138.8 1550.7L1151.8 1574.7L1125.8 1574.7ZM1143.3 1549.7L1156.3 1573.7L1130.3 1573.7ZM1147.7 1548.6L1160.7 1572.6L1134.7 1572.6ZM1152.2 1547.5L1165.2 1571.5L1139.2 1571.5ZM1156.7 1546.5L1169.7 1570.5L1143.7 1570.5ZM1161.1 1545.4L1174.1 1569.4L1148.1 1569.4ZM1165.6 1544.4L1178.6 1568.4L1152.6 1568.4ZM1170.1 1543.3L1183.1 1567.3L1157.1 1567.3ZM1174.5 1542.3L1187.5 1566.3L1161.5 1566.3ZM1179 1541.3L1192 1565.3L1166 1565.3ZM1183.5 1540.2L1196.5 1564.2L1170.5 1564.2ZM1187.9 1539.2L1200.9 1563.2L1174.9 1563.2ZM1192.4 1538.2L1205.4 1562.2L1179.4 1562.2ZM1196.9 1537.2L1209.9 1561.2L1183.9 1561.2ZM1201.3 1536.2L1214.3 1560.2L1188.3 1560.2ZM1205.8 1535.2L1218.8 1559.2L1192.8 1559.2ZM1210.3 1534.2L1223.3 1558.2L1197.3 1558.2ZM1214.7 1533.2L1227.7 1557.2L1201.7 1557.2ZM1219.2 1532.2L1232.2 1556.2L1206.2 1556.2ZM1223.7 1531.2L1236.7 1555.2L1210.7 1555.2ZM1228.1 1530.2L1241.1 1554.2L1215.1 1554.2ZM1232.6 1529.3L1245.6 1553.3L1219.6 1553.3ZM1237.1 1528.3L1250.1 1552.3L1224.1 1552.3ZM1241.5 1527.3L1254.5 1551.3L1228.5 1551.3ZM1246 1526.4L1259 1550.4L1233 1550.4ZM1250.5 1525.5L1263.5 1549.5L1237.5 1549.5ZM1254.9 1525.2L1267.9 1549.2L1241.9 1549.2ZM1259.4 1524.9L1272.4 1548.9L1246.4 1548.9ZM1263.9 1524.6L1276.9 1548.6L1250.9 1548.6ZM1268.3 1524.3L1281.3 1548.3L1255.3 1548.3ZM1272.8 1524.1L1285.8 1548.1L1259.8 1548.1ZM1277.3 1523.8L1290.3 1547.8L1264.3 1547.8ZM1281.7 1523.5L1294.7 1547.5L1268.7 1547.5ZM1286.2 1523.2L1299.2 1547.2L1273.2 1547.2ZM1290.7 1522.9L1303.7 1546.9L1277.7 1546.9ZM1295.1 1522.1L1308.1 1546.1L1282.1 1546.1ZM1299.6 1520.8L1312.6 1544.8L1286.6 1544.8ZM1304.1 1519.4L1317.1 1543.4L1291.1 1543.4ZM1308.5 1518L1321.5 1542L1295.5 1542ZM1313 1516.6L1326 1540.6L1300 1540.6ZM1317.5 1515.3L1330.5 1539.3L1304.5 1539.3ZM1321.9 1513.9L1334.9 1537.9L1308.9 1537.9ZM1326.4 1512.5L1339.4 1536.5L1313.4 1536.5ZM1330.9 1511.2L1343.9 1535.2L1317.9 1535.2ZM1335.3 1509.8L1348.3 1533.8L1322.3 1533.8ZM1339.8 1508.4L1352.8 1532.4L1326.8 1532.4ZM1344.3 1507.1L1357.3 1531.1L1331.3 1531.1ZM1348.7 1505.7L1361.7 1529.7L1335.7 1529.7ZM1353.2 1504.4L1366.2 1528.4L1340.2 1528.4ZM1357.7 1503L1370.7 1527L1344.7 1527ZM1362.1 1501.7L1375.1 1525.7L1349.1 1525.7ZM1366.6 1500.3L1379.6 1524.3L1353.6 1524.3ZM1371.1 1499L1384.1 1523L1358.1 1523ZM1375.5 1497.6L1388.5 1521.6L1362.5 1521.6ZM1380 1496.3L1393 1520.3L1367 1520.3ZM1384.5 1495L1397.5 1519L1371.5 1519ZM1388.9 1493.6L1401.9 1517.6L1375.9 1517.6ZM1393.4 1492.3L1406.4 1516.3L1380.4 1516.3ZM1397.9 1491L1410.9 1515L1384.9 1515ZM1402.3 1489.6L1415.3 1513.6L1389.3 1513.6ZM1406.8 1488.3L1419.8 1512.3L1393.8 1512.3ZM1411.3 1487L1424.3 1511L1398.3 1511ZM1415.7 1485.7L1428.7 1509.7L1402.7 1509.7ZM1420.2 1484.4L1433.2 1508.4L1407.2 1508.4ZM1424.7 1483L1437.7 1507L1411.7 1507ZM1429.1 1481.7L1442.1 1505.7L1416.1 1505.7ZM1433.6 1480.4L1446.6 1504.4L1420.6 1504.4ZM1438.1 1479.1L1451.1 1503.1L1425.1 1503.1ZM1442.5 1477.8L1455.5 1501.8L1429.5 1501.8ZM1447 1476.5L1460 1500.5L1434 1500.5ZM1451.5 1475.2L1464.5 1499.2L1438.5 1499.2ZM1455.9 1473.9L1468.9 1497.9L1442.9 1497.9ZM1460.4 1472.6L1473.4 1496.6L1447.4 1496.6ZM1464.9 1471.3L1477.9 1495.3L1451.9 1495.3ZM1469.3 1470L1482.3 1494L1456.3 1494ZM1473.8 1468.7L1486.8 1492.7L1460.8 1492.7ZM1478.3 1467.4L1491.3 1491.4L1465.3 1491.4ZM1482.7 1466.2L1495.7 1490.2L1469.7 1490.2ZM1487.2 1464.9L1500.2 1488.9L1474.2 1488.9ZM1491.7 1463.6L1504.7 1487.6L1478.7 1487.6ZM1496.1 1462.3L1509.1 1486.3L1483.1 1486.3ZM1500.6 1461L1513.6 1485L1487.6 1485ZM1505.1 1460.5L1518.1 1484.5L1492.1 1484.5ZM1509.6 1460.4L1522.6 1484.4L1496.6 1484.4ZM1514 1460.2L1527 1484.2L1501 1484.2ZM1518.5 1460.1L1531.5 1484.1L1505.5 1484.1ZM1523 1459.9L1536 1483.9L1510 1483.9ZM1527.4 1459.8L1540.4 1483.8L1514.4 1483.8ZM1531.9 1459.6L1544.9 1483.6L1518.9 1483.6ZM1536.4 1459.5L1549.4 1483.5L1523.4 1483.5ZM1540.8 1459.3L1553.8 1483.3L1527.8 1483.3ZM1545.3 1458.3L1558.3 1482.3L1532.3 1482.3ZM1549.8 1456.7L1562.8 1480.7L1536.8 1480.7ZM1554.2 1455.2L1567.2 1479.2L1541.2 1479.2ZM1558.7 1453.6L1571.7 1477.6L1545.7 1477.6ZM1563.2 1452.1L1576.2 1476.1L1550.2 1476.1ZM1567.6 1450.5L1580.6 1474.5L1554.6 1474.5ZM1572.1 1448.9L1585.1 1472.9L1559.1 1472.9ZM1576.6 1447.3L1589.6 1471.3L1563.6 1471.3ZM1581 1445.7L1594 1469.7L1568 1469.7ZM1585.5 1444L1598.5 1468L1572.5 1468ZM1590 1442.4L1603 1466.4L1577 1466.4ZM1594.4 1440.7L1607.4 1464.7L1581.4 1464.7ZM1598.9 1439.1L1611.9 1463.1L1585.9 1463.1ZM1603.4 1437.4L1616.4 1461.4L1590.4 1461.4ZM1607.8 1435.7L1620.8 1459.7L1594.8 1459.7ZM1612.3 1434L1625.3 1458L1599.3 1458ZM1616.8 1432.2L1629.8 1456.2L1603.8 1456.2ZM1621.2 1430.5L1634.2 1454.5L1608.2 1454.5ZM1625.7 1428.8L1638.7 1452.8L1612.7 1452.8ZM1630.2 1427L1643.2 1451L1617.2 1451ZM1634.6 1425.2L1647.6 1449.2L1621.6 1449.2ZM1639.1 1423.4L1652.1 1447.4L1626.1 1447.4ZM1643.6 1421.6L1656.6 1445.6L1630.6 1445.6ZM1648 1419.8L1661 1443.8L1635 1443.8ZM1652.5 1418L1665.5 1442L1639.5 1442ZM1657 1416.2L1670 1440.2L1644 1440.2ZM1661.4 1414.3L1674.4 1438.3L1648.4 1438.3ZM1665.9 1412.5L1678.9 1436.5L1652.9 1436.5ZM1670.4 1410.6L1683.4 1434.6L1657.4 1434.6ZM1674.8 1408.7L1687.8 1432.7L1661.8 1432.7ZM1679.3 1406.8L1692.3 1430.8L1666.3 1430.8ZM1683.8 1404.9L1696.8 1428.9L1670.8 1428.9ZM1688.2 1402.9L1701.2 1426.9L1675.2 1426.9ZM1692.7 1401L1705.7 1425L1679.7 1425ZM1697.2 1399L1710.2 1423L1684.2 1423ZM1701.6 1397L1714.6 1421L1688.6 1421ZM1706.1 1395.1L1719.1 1419.1L1693.1 1419.1ZM1710.6 1393.1L1723.6 1417.1L1697.6 1417.1ZM1715 1391.1L1728 1415.1L1702 1415.1ZM1719.5 1389L1732.5 1413L1706.5 1413ZM1724 1387L1737 1411L1711 1411ZM1728.4 1384.9L1741.4 1408.9L1715.4 1408.9ZM1732.9 1382.9L1745.9 1406.9L1719.9 1406.9ZM1737.4 1380.8L1750.4 1404.8L1724.4 1404.8ZM1741.8 1378.7L1754.8 1402.7L1728.8 1402.7ZM1746.3 1376.6L1759.3 1400.6L1733.3 1400.6ZM1750.8 1374.5L1763.8 1398.5L1737.8 1398.5ZM1755.2 1372.4L1768.2 1396.4L1742.2 1396.4ZM1759.7 1370.2L1772.7 1394.2L1746.7 1394.2ZM1764.2 1369.4L1777.2 1393.4L1751.2 1393.4ZM1768.6 1369.2L1781.6 1393.2L1755.6 1393.2ZM1773.1 1369L1786.1 1393L1760.1 1393ZM1777.6 1368.7L1790.6 1392.7L1764.6 1392.7ZM1782 1368.5L1795 1392.5L1769 1392.5ZM1786.5 1368.3L1799.5 1392.3L1773.5 1392.3ZM1791 1368.1L1804 1392.1L1778 1392.1ZM1795.4 1367.9L1808.4 1391.9L1782.4 1391.9ZM1799.9 1365.6L1812.9 1389.6L1786.9 1389.6ZM1804.4 1362.6L1817.4 1386.6L1791.4 1386.6ZM1808.8 1359.5L1821.8 1383.5L1795.8 1383.5ZM1813.3 1356.5L1826.3 1380.5L1800.3 1380.5ZM1817.8 1353.4L1830.8 1377.4L1804.8 1377.4ZM1822.2 1350.4L1835.2 1374.4L1809.2 1374.4ZM1826.7 1347.3L1839.7 1371.3L1813.7 1371.3ZM1831.2 1344.1L1844.2 1368.1L1818.2 1368.1ZM1835.6 1341L1848.6 1365L1822.6 1365ZM1840.1 1337.8L1853.1 1361.8L1827.1 1361.8ZM1844.6 1334.7L1857.6 1358.7L1831.6 1358.7ZM1849 1331.5L1862 1355.5L1836 1355.5ZM1853.5 1328.3L1866.5 1352.3L1840.5 1352.3ZM1858 1325.1L1871 1349.1L1845 1349.1ZM1862.4 1321.8L1875.4 1345.8L1849.4 1345.8ZM1866.9 1318.6L1879.9 1342.6L1853.9 1342.6ZM1871.4 1315.3L1884.4 1339.3L1858.4 1339.3ZM1875.8 1312L1888.8 1336L1862.8 1336ZM1880.3 1308.7L1893.3 1332.7L1867.3 1332.7ZM1884.8 1305.4L1897.8 1329.4L1871.8 1329.4ZM1889.2 1302.1L1902.2 1326.1L1876.2 1326.1ZM1893.7 1298.7L1906.7 1322.7L1880.7 1322.7ZM1898.2 1295.4L1911.2 1319.4L1885.2 1319.4ZM1902.6 1292L1915.6 1316L1889.6 1316ZM1907.1 1288.6L1920.1 1312.6L1894.1 1312.6ZM1911.6 1285.2L1924.6 1309.2L1898.6 1309.2ZM1916 1281.8L1929 1305.8L1903 1305.8ZM1920.5 1278.4L1933.5 1302.4L1907.5 1302.4ZM1925 1274.9L1938 1298.9L1912 1298.9ZM1929.4 1271.4L1942.4 1295.4L1916.4 1295.4ZM1933.9 1267.8L1946.9 1291.8L1920.9 1291.8ZM1938.4 1264.3L1951.4 1288.3L1925.4 1288.3ZM1942.8 1260.6L1955.8 1284.6L1929.8 1284.6ZM1947.3 1257L1960.3 1281L1934.3 1281ZM1951.8 1253.3L1964.8 1277.3L1938.8 1277.3ZM1956.2 1249.5L1969.2 1273.5L1943.2 1273.5ZM1960.7 1245.7L1973.7 1269.7L1947.7 1269.7ZM1965.2 1241.9L1978.2 1265.9L1952.2 1265.9ZM1969.6 1238L1982.6 1262L1956.6 1262ZM1974.1 1234L1987.1 1258L1961.1 1258ZM1978.6 1230L1991.6 1254L1965.6 1254ZM1983 1226L1996 1250L1970 1250ZM1987.5 1221.9L2000.5 1245.9L1974.5 1245.9ZM1992 1217.8L2005 1241.8L1979 1241.8ZM1996.4 1213.7L2009.4 1237.7L1983.4 1237.7ZM2000.9 1209.5L2013.9 1233.5L1987.9 1233.5ZM2005.4 1206.5L2018.4 1230.5L1992.4 1230.5ZM2009.9 1206.4L2022.9 1230.4L1996.9 1230.4ZM2014.3 1206.3L2027.3 1230.3L2001.3 1230.3ZM2018.8 1206.2L2031.8 1230.2L2005.8 1230.2ZM2023.3 1206.2L2036.3 1230.2L2010.3 1230.2ZM2027.7 1206.1L2040.7 1230.1L2014.7 1230.1ZM2032.2 1206L2045.2 1230L2019.2 1230ZM2036.7 1205.9L2049.7 1229.9L2023.7 1229.9ZM2041.1 1205.3L2054.1 1229.3L2028.1 1229.3ZM2045.6 1200.6L2058.6 1224.6L2032.6 1224.6ZM2050.1 1195.6L2063.1 1219.6L2037.1 1219.6ZM2054.5 1190.3L2067.5 1214.3L2041.5 1214.3ZM2059 1184.7L2072 1208.7L2046 1208.7ZM2063.5 1178.8L2076.5 1202.8L2050.5 1202.8ZM2072.4 1166L2085.4 1190L2059.4 1190ZM2081.3 1151.6L2094.3 1175.6L2068.3 1175.6ZM2090.3 1136.6L2103.3 1160.6L2077.3 1160.6ZM2099.2 1121.3L2112.2 1145.3L2086.2 1145.3ZM2108.1 1103L2121.1 1127L2095.1 1127ZM2117.1 1078.6L2130.1 1102.6L2104.1 1102.6ZM2126 1056.1L2139 1080.1L2113 1080.1ZM2134.9 1036.1L2147.9 1060.1L2121.9 1060.1ZM2143.7 692.3L2156.7 716.3L2130.7 716.3ZM2154.3 341.6L2167.3 365.6L2141.3 365.6Z"/></g>
<g fill="#000">
<rect x="253.3" y="80.4" width="10.7" height="1633.6"/>
<rect x="253.3" y="1701" width="2026.9" height="10.3"/>
<rect x="263" y="1565.8" width="11.7" height="10.3"/>
<rect x="263" y="1430.8" width="27.8" height="10.3"/>
<rect x="263" y="1295.7" width="11.7" height="10.3"/>
<rect x="263" y="1160.7" width="27.8" height="10.3"/>
<rect x="263" y="1025.6" width="11.7" height="10.3"/>
<rect x="263" y="890.6" width="27.8" height="10.3"/>
<rect x="263" y="755.6" width="11.7" height="10.3"/>
<rect x="263" y="620.5" width="27.8" height="10.3"/>
<rect x="263" y="485.5" width="11.7" height="10.3"/>
<rect x="263" y="350.4" width="27.8" height="10.3"/>
<rect x="263" y="215.4" width="11.7" height="10.3"/>
<rect x="263" y="80.4" width="27.8" height="10.3"/>
<rect x="505.2" y="1673.6" width="10.5" height="28.4"/>
<rect x="756.9" y="1673.6" width="10.5" height="28.4"/>
<rect x="1008.5" y="1673.6" width="10.5" height="28.4"/>
<rect x="1260.2" y="1673.6" width="10.5" height="28.4"/>
<rect x="1511.8" y="1673.6" width="10.5" height="28.4"/>
<rect x="1763.5" y="1673.6" width="10.5" height="28.4"/>
<rect x="2015.2" y="1673.6" width="10.5" height="28.4"/>
<rect x="2266.8" y="1673.6" width="10.5" height="28.4"/>
</g>
<g clip-path="url(#plotclip)"><path fill="#ff0000" d="M258.8 1692.6L271.8 1716.6L245.8 1716.6ZM263.3 1692.1L276.3 1716.1L250.3 1716.1ZM267.7 1691.6L280.7 1715.6L254.7 1715.6ZM272.2 1691L285.2 1715L259.2 1715ZM276.7 1690.5L289.7 1714.5L263.7 1714.5ZM281.1 1690L294.1 1714L268.1 1714ZM285.6 1689.4L298.6 1713.4L272.6 1713.4ZM290.1 1688.8L303.1 1712.8L277.1 1712.8ZM294.5 1688.3L307.5 1712.3L281.5 1712.3ZM299 1687.7L312 1711.7L286 1711.7ZM303.5 1687.2L316.5 1711.2L290.5 1711.2ZM307.9 1686.6L320.9 1710.6L294.9 1710.6ZM312.4 1686L325.4 1710L299.4 1710ZM316.9 1685.5L329.9 1709.5L303.9 1709.5ZM321.3 1684.9L334.3 1708.9L308.3 1708.9ZM325.8 1684.3L338.8 1708.3L312.8 1708.3ZM330.3 1683.7L343.3 1707.7L317.3 1707.7ZM334.7 1683.1L347.7 1707.1L321.7 1707.1ZM339.2 1682.6L352.2 1706.6L326.2 1706.6ZM343.7 1682L356.7 1706L330.7 1706ZM348.1 1681.4L361.1 1705.4L335.1 1705.4ZM352.6 1680.8L365.6 1704.8L339.6 1704.8ZM357.1 1680.2L370.1 1704.2L344.1 1704.2ZM361.5 1679.6L374.5 1703.6L348.5 1703.6ZM366 1679L379 1703L353 1703ZM370.5 1678.4L383.5 1702.4L357.5 1702.4ZM374.9 1677.8L387.9 1701.8L361.9 1701.8ZM379.4 1677.2L392.4 1701.2L366.4 1701.2ZM383.9 1676.5L396.9 1700.5L370.9 1700.5ZM388.3 1675.9L401.3 1699.9L375.3 1699.9ZM392.8 1675.3L405.8 1699.3L379.8 1699.3ZM397.3 1674.7L410.3 1698.7L384.3 1698.7ZM401.7 1674.1L414.7 1698.1L388.7 1698.1ZM406.2 1673.4L419.2 1697.4L393.2 1697.4ZM410.7 1672.8L423.7 1696.8L397.7 1696.8ZM415.1 1672.2L428.1 1696.2L402.1 1696.2ZM419.6 1671.5L432.6 1695.5L406.6 1695.5ZM424.1 1670.9L437.1 1694.9L411.1 1694.9ZM428.5 1670.2L441.5 1694.2L415.5 1694.2ZM433 1669.6L446 1693.6L420 1693.6ZM437.5 1668.9L450.5 1692.9L424.5 1692.9ZM441.9 1668.2L454.9 1692.2L428.9 1692.2ZM446.4 1667.6L459.4 1691.6L433.4 1691.6ZM450.9 1666.9L463.9 1690.9L437.9 1690.9ZM455.3 1666.3L468.3 1690.3L442.3 1690.3ZM459.8 1665.6L472.8 1689.6L446.8 1689.6ZM464.3 1664.9L477.3 1688.9L451.3 1688.9ZM468.7 1664.2L481.7 1688.2L455.7 1688.2ZM473.2 1663.5L486.2 1687.5L460.2 1687.5ZM477.7 1662.9L490.7 1686.9L464.7 1686.9ZM482.1 1662.2L495.1 1686.2L469.1 1686.2ZM486.6 1661.5L499.6 1685.5L473.6 1685.5ZM491.1 1660.8L504.1 1684.8L478.1 1684.8ZM495.5 1660.4L508.5 1684.4L482.5 1684.4ZM500 1660.1L513 1684.1L487 1684.1ZM504.5 1659.9L517.5 1683.9L491.5 1683.9ZM509 1659.6L522 1683.6L496 1683.6ZM513.4 1659.4L526.4 1683.4L500.4 1683.4ZM517.9 1659.2L530.9 1683.2L504.9 1683.2ZM522.4 1658.9L535.4 1682.9L509.4 1682.9ZM526.8 1658.7L539.8 1682.7L513.8 1682.7ZM531.3 1658.4L544.3 1682.4L518.3 1682.4ZM535.8 1658.2L548.8 1682.2L522.8 1682.2ZM540.2 1657.8L553.2 1681.8L527.2 1681.8ZM544.7 1657.1L557.7 1681.1L531.7 1681.1ZM549.2 1656.4L562.2 1680.4L536.2 1680.4ZM553.6 1655.7L566.6 1679.7L540.6 1679.7ZM558.1 1655L571.1 1679L545.1 1679ZM562.6 1654.3L575.6 1678.3L549.6 1678.3ZM567 1653.6L580 1677.6L554 1677.6ZM571.5 1652.9L584.5 1676.9L558.5 1676.9ZM576 1652.2L589 1676.2L563 1676.2ZM580.4 1651.5L593.4 1675.5L567.4 1675.5ZM584.9 1650.8L597.9 1674.8L571.9 1674.8ZM589.4 1650.1L602.4 1674.1L576.4 1674.1ZM593.8 1649.4L606.8 1673.4L580.8 1673.4ZM598.3 1648.7L611.3 1672.7L585.3 1672.7ZM602.8 1648L615.8 1672L589.8 1672ZM607.2 1647.3L620.2 1671.3L594.2 1671.3ZM611.7 1646.6L624.7 1670.6L598.7 1670.6Z"/></g>
<g font-family='"Liberation Serif", serif' font-weight="bold" font-size="67" letter-spacing="2.6" fill="#000">
<text x="230" y="1727.5" text-anchor="end">0.0</text>
<text x="230" y="1457.4" text-anchor="end">0.2</text>
<text x="230" y="1187.3" text-anchor="end">0.4</text>
<text x="230" y="917.3" text-anchor="end">0.6</text>
<text x="230" y="647.2" text-anchor="end">0.8</text>
<text x="230" y="377.1" text-anchor="end">1.0</text>
<text x="230" y="107" text-anchor="end">1.2</text>
<text x="261.1" y="1793.7" text-anchor="middle">0</text>
<text x="512.8" y="1793.7" text-anchor="middle">100</text>
<text x="764.4" y="1793.7" text-anchor="middle">200</text>
<text x="1016.1" y="1793.7" text-anchor="middle">300</text>
<text x="1267.7" y="1793.7" text-anchor="middle">400</text>
<text x="1519.4" y="1793.7" text-anchor="middle">500</text>
<text x="1771.1" y="1793.7" text-anchor="middle">600</text>
<text x="2022.7" y="1793.7" text-anchor="middle">700</text>
<text x="2274.4" y="1793.7" text-anchor="middle">800</text>
</g>
<g font-family='"Liberation Serif", serif' font-size="84" fill="#000">
<text transform="translate(103.2 897) rotate(-90)" text-anchor="middle">Damage</text>
<text x="1266.5" y="1924.2" text-anchor="middle" letter-spacing="1"><tspan font-style="italic">N</tspan> (cycles)</text>
</g>
<path fill="#ff0000" d="M302.5 112L316 136L289 136Z"/>
<g font-family='"Liberation Serif", serif' font-size="75" fill="#000">
<text transform="translate(405 151.2) scale(1.04 1)" >ASME</text>
<text transform="translate(634.5 151.2) scale(1.04 1)" >code,</text>
<text transform="translate(818 151.2) scale(1.07 1)" font-style="italic">D</text>
<text transform="translate(875.5 170) scale(1.0 1)" font-style="italic" font-size="46">i</text>
<text transform="translate(885.5 151.2) scale(1.17 1)" >=</text>
<text transform="translate(929.5 151.2) scale(1.0 1)" >230</text>
<text transform="translate(1064.5 151.2) scale(1.04 1)" >mm</text>
<text transform="translate(394.5 261.7) scale(1.3 1)" font-style="italic">f</text>
<text transform="translate(428 261.7) scale(1.23 1)" >=</text>
<text transform="translate(472.5 261.7) scale(1.0 1)" >0.2</text>
<text transform="translate(407 356.9) scale(1.04 1)" font-style="italic">t/D</text>
<text transform="translate(504.5 375.7) scale(1.0 1)" font-style="italic" font-size="46">i</text>
<text transform="translate(516 356.9) scale(1.3 1)" >=</text>
<text transform="translate(563 356.9) scale(1.0 1)" >1.0</text>
</g>
</g>
<g>
<text x="917.5" y="232.8" font-family='"Liberation Serif", serif' font-weight="bold" font-size="44" textLength="116" lengthAdjust="spacing" fill="#000">SDV1</text>
<g filter="url(#soft2)">
<rect x="906" y="256.7" width="75.5" height="48.5" fill="#fa0505"/>
<rect x="906" y="304.9" width="75.5" height="48.5" fill="#fb5d0a"/>
<rect x="906" y="353.2" width="75.5" height="48.5" fill="#fbb70a"/>
<rect x="906" y="401.4" width="75.5" height="48.5" fill="#e8fb0a"/>
<rect x="906" y="449.6" width="75.5" height="48.5" fill="#8dfb0a"/>
<rect x="906" y="497.9" width="75.5" height="48.5" fill="#30fb0a"/>
<rect x="906" y="546.1" width="75.5" height="48.5" fill="#0afb32"/>
<rect x="906" y="594.3" width="75.5" height="48.5" fill="#0afb8b"/>
<rect x="906" y="642.6" width="75.5" height="48.5" fill="#0afbe6"/>
<rect x="906" y="690.8" width="75.5" height="48.5" fill="#0ab7fb"/>
<rect x="906" y="739" width="75.5" height="48.5" fill="#0a5dfb"/>
<rect x="906" y="787.3" width="75.5" height="48.5" fill="#0505f5"/>
<rect x="981.5" y="254.9" width="21.1" height="3.6" fill="#6a6a6a"/>
<rect x="981.5" y="303.1" width="21.1" height="3.6" fill="#6a6a6a"/>
<rect x="981.5" y="351.4" width="21.1" height="3.6" fill="#6a6a6a"/>
<rect x="981.5" y="399.6" width="21.1" height="3.6" fill="#6a6a6a"/>
<rect x="981.5" y="447.8" width="21.1" height="3.6" fill="#6a6a6a"/>
<rect x="981.5" y="496.1" width="21.1" height="3.6" fill="#6a6a6a"/>
<rect x="981.5" y="544.3" width="21.1" height="3.6" fill="#6a6a6a"/>
<rect x="981.5" y="592.5" width="21.1" height="3.6" fill="#6a6a6a"/>
<rect x="981.5" y="640.8" width="21.1" height="3.6" fill="#6a6a6a"/>
<rect x="981.5" y="689" width="21.1" height="3.6" fill="#6a6a6a"/>
<rect x="981.5" y="737.2" width="21.1" height="3.6" fill="#6a6a6a"/>
<rect x="981.5" y="785.5" width="21.1" height="3.6" fill="#6a6a6a"/>
<rect x="981.5" y="833.7" width="21.1" height="3.6" fill="#6a6a6a"/>
<g fill="none" stroke="#000" stroke-opacity="0.6" stroke-width="3.4">
<rect x="906" y="256.7" width="75.5" height="578.8"/>
<path d="M906 304.9H981.5"/>
<path d="M906 353.2H981.5"/>
<path d="M906 401.4H981.5"/>
<path d="M906 449.6H981.5"/>
<path d="M906 497.9H981.5"/>
<path d="M906 546.1H981.5"/>
<path d="M906 594.3H981.5"/>
<path d="M906 642.6H981.5"/>
<path d="M906 690.8H981.5"/>
<path d="M906 739H981.5"/>
<path d="M906 787.3H981.5"/>
</g>
</g>
<g font-family='"DejaVu Sans", "Liberation Sans", sans-serif' font-size="36.5" fill="#000" stroke="#000" stroke-width="1.5" stroke-linejoin="round">
<text transform="translate(1006 273) scale(1.034 1)">+1.102×10<tspan font-size="24.8" dx="0.5" dy="-11.3">0</tspan></text>
<text transform="translate(1006 321.2) scale(1.034 1)">+1.003×10<tspan font-size="24.8" dx="0.5" dy="-11.3">0</tspan></text>
<text transform="translate(1006 369.5) scale(1.034 1)">+9.030×10<tspan font-size="24.8" dx="0.5" dy="-11.3">-1</tspan></text>
<text transform="translate(1006 417.7) scale(1.034 1)">+8.033×10<tspan font-size="24.8" dx="0.5" dy="-11.3">-1</tspan></text>
<text transform="translate(1006 465.9) scale(1.034 1)">+7.036×10<tspan font-size="24.8" dx="0.5" dy="-11.3">-1</tspan></text>
<text transform="translate(1006 514.2) scale(1.034 1)">+6.039×10<tspan font-size="24.8" dx="0.5" dy="-11.3">-1</tspan></text>
<text transform="translate(1006 562.4) scale(1.034 1)">+5.041×10<tspan font-size="24.8" dx="0.5" dy="-11.3">-1</tspan></text>
<text transform="translate(1006 610.6) scale(1.034 1)">+4.044×10<tspan font-size="24.8" dx="0.5" dy="-11.3">-1</tspan></text>
<text transform="translate(1006 658.9) scale(1.034 1)">+3.047×10<tspan font-size="24.8" dx="0.5" dy="-11.3">-1</tspan></text>
<text transform="translate(1006 707.1) scale(1.034 1)">+2.049×10<tspan font-size="24.8" dx="0.5" dy="-11.3">-1</tspan></text>
<text transform="translate(1006 755.3) scale(1.034 1)">+1.052×10<tspan font-size="24.8" dx="0.5" dy="-11.3">-1</tspan></text>
<text transform="translate(1006 803.6) scale(1.034 1)">+5.480×10<tspan font-size="24.8" dx="0.5" dy="-11.3">-3</tspan></text>
<text transform="translate(1006 851.8) scale(1.034 1)">-9.425×10<tspan font-size="24.8" dx="0.5" dy="-11.3">-2</tspan></text>
</g>
</g>
<g>
<text x="316.5" y="918.6" font-family='"Liberation Serif", serif' font-weight="bold" font-size="44" textLength="116" lengthAdjust="spacing" fill="#000">SDV1</text>
<g filter="url(#soft2)">
<rect x="314.5" y="956.6" width="75.6" height="49.5" fill="#fa0505"/>
<rect x="314.5" y="1005.8" width="75.6" height="49.5" fill="#fb5d0a"/>
<rect x="314.5" y="1054.9" width="75.6" height="49.5" fill="#fbb70a"/>
<rect x="314.5" y="1104.1" width="75.6" height="49.5" fill="#e8fb0a"/>
<rect x="314.5" y="1153.2" width="75.6" height="49.5" fill="#8dfb0a"/>
<rect x="314.5" y="1202.4" width="75.6" height="49.5" fill="#30fb0a"/>
<rect x="314.5" y="1251.5" width="75.6" height="49.5" fill="#0afb32"/>
<rect x="314.5" y="1300.7" width="75.6" height="49.5" fill="#0afb8b"/>
<rect x="314.5" y="1349.9" width="75.6" height="49.5" fill="#0afbe6"/>
<rect x="314.5" y="1399" width="75.6" height="49.5" fill="#0ab7fb"/>
<rect x="314.5" y="1448.2" width="75.6" height="49.5" fill="#0a5dfb"/>
<rect x="314.5" y="1497.3" width="75.6" height="49.5" fill="#0505f5"/>
<rect x="390.1" y="954.8" width="21.1" height="3.6" fill="#6a6a6a"/>
<rect x="390.1" y="1004" width="21.1" height="3.6" fill="#6a6a6a"/>
<rect x="390.1" y="1053.1" width="21.1" height="3.6" fill="#6a6a6a"/>
<rect x="390.1" y="1102.3" width="21.1" height="3.6" fill="#6a6a6a"/>
<rect x="390.1" y="1151.4" width="21.1" height="3.6" fill="#6a6a6a"/>
<rect x="390.1" y="1200.6" width="21.1" height="3.6" fill="#6a6a6a"/>
<rect x="390.1" y="1249.8" width="21.1" height="3.6" fill="#6a6a6a"/>
<rect x="390.1" y="1298.9" width="21.1" height="3.6" fill="#6a6a6a"/>
<rect x="390.1" y="1348.1" width="21.1" height="3.6" fill="#6a6a6a"/>
<rect x="390.1" y="1397.2" width="21.1" height="3.6" fill="#6a6a6a"/>
<rect x="390.1" y="1446.4" width="21.1" height="3.6" fill="#6a6a6a"/>
<rect x="390.1" y="1495.5" width="21.1" height="3.6" fill="#6a6a6a"/>
<rect x="390.1" y="1544.7" width="21.1" height="3.6" fill="#6a6a6a"/>
<g fill="none" stroke="#000" stroke-opacity="0.6" stroke-width="3.4">
<rect x="314.5" y="956.6" width="75.6" height="589.9"/>
<path d="M314.5 1005.8H390.1"/>
<path d="M314.5 1054.9H390.1"/>
<path d="M314.5 1104.1H390.1"/>
<path d="M314.5 1153.2H390.1"/>
<path d="M314.5 1202.4H390.1"/>
<path d="M314.5 1251.5H390.1"/>
<path d="M314.5 1300.7H390.1"/>
<path d="M314.5 1349.9H390.1"/>
<path d="M314.5 1399H390.1"/>
<path d="M314.5 1448.2H390.1"/>
<path d="M314.5 1497.3H390.1"/>
</g>
</g>
<g font-family='"DejaVu Sans", "Liberation Sans", sans-serif' font-size="37" fill="#000" stroke="#000" stroke-width="1.5" stroke-linejoin="round">
<text transform="translate(416 973.1) scale(1.032 1)">+1.558×10<tspan font-size="25.2" dx="0.5" dy="-11.5">-1</tspan></text>
<text transform="translate(416 1022.2) scale(1.032 1)">+1.410×10<tspan font-size="25.2" dx="0.5" dy="-11.5">-1</tspan></text>
<text transform="translate(416 1071.4) scale(1.032 1)">+1.261×10<tspan font-size="25.2" dx="0.5" dy="-11.5">-1</tspan></text>
<text transform="translate(416 1120.6) scale(1.032 1)">+1.113×10<tspan font-size="25.2" dx="0.5" dy="-11.5">-1</tspan></text>
<text transform="translate(416 1169.7) scale(1.032 1)">+9.648×10<tspan font-size="25.2" dx="0.5" dy="-11.5">-2</tspan></text>
<text transform="translate(416 1218.9) scale(1.032 1)">+8.166×10<tspan font-size="25.2" dx="0.5" dy="-11.5">-2</tspan></text>
<text transform="translate(416 1268) scale(1.032 1)">+6.683×10<tspan font-size="25.2" dx="0.5" dy="-11.5">-2</tspan></text>
<text transform="translate(416 1317.2) scale(1.032 1)">+5.201×10<tspan font-size="25.2" dx="0.5" dy="-11.5">-2</tspan></text>
<text transform="translate(416 1366.4) scale(1.032 1)">+3.718×10<tspan font-size="25.2" dx="0.5" dy="-11.5">-2</tspan></text>
<text transform="translate(416 1415.5) scale(1.032 1)">+2.236×10<tspan font-size="25.2" dx="0.5" dy="-11.5">-2</tspan></text>
<text transform="translate(416 1464.7) scale(1.032 1)">+7.533×10<tspan font-size="25.2" dx="0.5" dy="-11.5">-3</tspan></text>
<text transform="translate(416 1513.8) scale(1.032 1)">-7.292×10<tspan font-size="25.2" dx="0.5" dy="-11.5">-3</tspan></text>
<text transform="translate(416 1563) scale(1.032 1)">-2.212×10<tspan font-size="25.2" dx="0.5" dy="-11.5">-2</tspan></text>
</g>
</g>
<g>
<text x="923.5" y="2245.8" font-family='"Liberation Serif", serif' font-weight="bold" font-size="44" textLength="116" lengthAdjust="spacing" fill="#000">SDV1</text>
<g filter="url(#soft2)">
<rect x="918.9" y="2274.6" width="77.1" height="50.7" fill="#fa0505"/>
<rect x="918.9" y="2325" width="77.1" height="50.7" fill="#fb5d0a"/>
<rect x="918.9" y="2375.4" width="77.1" height="50.7" fill="#fbb70a"/>
<rect x="918.9" y="2425.8" width="77.1" height="50.7" fill="#e8fb0a"/>
<rect x="918.9" y="2476.3" width="77.1" height="50.7" fill="#8dfb0a"/>
<rect x="918.9" y="2526.7" width="77.1" height="50.7" fill="#30fb0a"/>
<rect x="918.9" y="2577.1" width="77.1" height="50.7" fill="#0afb32"/>
<rect x="918.9" y="2627.5" width="77.1" height="50.7" fill="#0afb8b"/>
<rect x="918.9" y="2677.9" width="77.1" height="50.7" fill="#0afbe6"/>
<rect x="918.9" y="2728.3" width="77.1" height="50.7" fill="#0ab7fb"/>
<rect x="918.9" y="2778.8" width="77.1" height="50.7" fill="#0a5dfb"/>
<rect x="918.9" y="2829.2" width="77.1" height="50.7" fill="#0505f5"/>
<rect x="996" y="2272.8" width="21.9" height="3.6" fill="#6a6a6a"/>
<rect x="996" y="2323.2" width="21.9" height="3.6" fill="#6a6a6a"/>
<rect x="996" y="2373.6" width="21.9" height="3.6" fill="#6a6a6a"/>
<rect x="996" y="2424" width="21.9" height="3.6" fill="#6a6a6a"/>
<rect x="996" y="2474.5" width="21.9" height="3.6" fill="#6a6a6a"/>
<rect x="996" y="2524.9" width="21.9" height="3.6" fill="#6a6a6a"/>
<rect x="996" y="2575.3" width="21.9" height="3.6" fill="#6a6a6a"/>
<rect x="996" y="2625.7" width="21.9" height="3.6" fill="#6a6a6a"/>
<rect x="996" y="2676.1" width="21.9" height="3.6" fill="#6a6a6a"/>
<rect x="996" y="2726.5" width="21.9" height="3.6" fill="#6a6a6a"/>
<rect x="996" y="2777" width="21.9" height="3.6" fill="#6a6a6a"/>
<rect x="996" y="2827.4" width="21.9" height="3.6" fill="#6a6a6a"/>
<rect x="996" y="2877.8" width="21.9" height="3.6" fill="#6a6a6a"/>
<g fill="none" stroke="#000" stroke-opacity="0.6" stroke-width="3.4">
<rect x="918.9" y="2274.6" width="77.1" height="605"/>
<path d="M918.9 2325H996"/>
<path d="M918.9 2375.4H996"/>
<path d="M918.9 2425.8H996"/>
<path d="M918.9 2476.3H996"/>
<path d="M918.9 2526.7H996"/>
<path d="M918.9 2577.1H996"/>
<path d="M918.9 2627.5H996"/>
<path d="M918.9 2677.9H996"/>
<path d="M918.9 2728.3H996"/>
<path d="M918.9 2778.8H996"/>
<path d="M918.9 2829.2H996"/>
</g>
</g>
<g font-family='"DejaVu Sans", "Liberation Sans", sans-serif' font-size="37.5" fill="#000" stroke="#000" stroke-width="1.5" stroke-linejoin="round">
<text transform="translate(1017.5 2290.3) scale(1.034 1)">+7.495×10<tspan font-size="25.5" dx="0.5" dy="-11.6">-1</tspan></text>
<text transform="translate(1017.5 2340.7) scale(1.034 1)">+6.776×10<tspan font-size="25.5" dx="0.5" dy="-11.6">-1</tspan></text>
<text transform="translate(1017.5 2391.1) scale(1.034 1)">+6.056×10<tspan font-size="25.5" dx="0.5" dy="-11.6">-1</tspan></text>
<text transform="translate(1017.5 2441.5) scale(1.034 1)">+5.337×10<tspan font-size="25.5" dx="0.5" dy="-11.6">-1</tspan></text>
<text transform="translate(1017.5 2491.9) scale(1.034 1)">+4.618×10<tspan font-size="25.5" dx="0.5" dy="-11.6">-1</tspan></text>
<text transform="translate(1017.5 2542.4) scale(1.034 1)">+3.898×10<tspan font-size="25.5" dx="0.5" dy="-11.6">-1</tspan></text>
<text transform="translate(1017.5 2592.8) scale(1.034 1)">+3.179×10<tspan font-size="25.5" dx="0.5" dy="-11.6">-1</tspan></text>
<text transform="translate(1017.5 2643.2) scale(1.034 1)">+2.460×10<tspan font-size="25.5" dx="0.5" dy="-11.6">-1</tspan></text>
<text transform="translate(1017.5 2693.6) scale(1.034 1)">+1.740×10<tspan font-size="25.5" dx="0.5" dy="-11.6">-1</tspan></text>
<text transform="translate(1017.5 2744) scale(1.034 1)">+1.021×10<tspan font-size="25.5" dx="0.5" dy="-11.6">-1</tspan></text>
<text transform="translate(1017.5 2794.4) scale(1.034 1)">+3.016×10<tspan font-size="25.5" dx="0.5" dy="-11.6">-2</tspan></text>
<text transform="translate(1017.5 2844.9) scale(1.034 1)">-4.178×10<tspan font-size="25.5" dx="0.5" dy="-11.6">-2</tspan></text>
<text transform="translate(1017.5 2895.3) scale(1.034 1)">-1.137×10<tspan font-size="25.5" dx="0.5" dy="-11.6">-1</tspan></text>
</g>
</g>
<g>
<text x="344.5" y="2955.4" font-family='"Liberation Serif", serif' font-weight="bold" font-size="44" textLength="116" lengthAdjust="spacing" fill="#000">SDV1</text>
<g filter="url(#soft2)">
<rect x="331.7" y="2978.5" width="75.6" height="49.5" fill="#fa0505"/>
<rect x="331.7" y="3027.7" width="75.6" height="49.5" fill="#fb5d0a"/>
<rect x="331.7" y="3076.8" width="75.6" height="49.5" fill="#fbb70a"/>
<rect x="331.7" y="3126" width="75.6" height="49.5" fill="#e8fb0a"/>
<rect x="331.7" y="3175.2" width="75.6" height="49.5" fill="#8dfb0a"/>
<rect x="331.7" y="3224.3" width="75.6" height="49.5" fill="#30fb0a"/>
<rect x="331.7" y="3273.5" width="75.6" height="49.5" fill="#0afb32"/>
<rect x="331.7" y="3322.7" width="75.6" height="49.5" fill="#0afb8b"/>
<rect x="331.7" y="3371.8" width="75.6" height="49.5" fill="#0afbe6"/>
<rect x="331.7" y="3421" width="75.6" height="49.5" fill="#0ab7fb"/>
<rect x="331.7" y="3470.2" width="75.6" height="49.5" fill="#0a5dfb"/>
<rect x="331.7" y="3519.3" width="75.6" height="49.5" fill="#0505f5"/>
<rect x="407.3" y="2976.7" width="21.1" height="3.6" fill="#6a6a6a"/>
<rect x="407.3" y="3025.9" width="21.1" height="3.6" fill="#6a6a6a"/>
<rect x="407.3" y="3075" width="21.1" height="3.6" fill="#6a6a6a"/>
<rect x="407.3" y="3124.2" width="21.1" height="3.6" fill="#6a6a6a"/>
<rect x="407.3" y="3173.4" width="21.1" height="3.6" fill="#6a6a6a"/>
<rect x="407.3" y="3222.5" width="21.1" height="3.6" fill="#6a6a6a"/>
<rect x="407.3" y="3271.7" width="21.1" height="3.6" fill="#6a6a6a"/>
<rect x="407.3" y="3320.9" width="21.1" height="3.6" fill="#6a6a6a"/>
<rect x="407.3" y="3370" width="21.1" height="3.6" fill="#6a6a6a"/>
<rect x="407.3" y="3419.2" width="21.1" height="3.6" fill="#6a6a6a"/>
<rect x="407.3" y="3468.4" width="21.1" height="3.6" fill="#6a6a6a"/>
<rect x="407.3" y="3517.5" width="21.1" height="3.6" fill="#6a6a6a"/>
<rect x="407.3" y="3566.7" width="21.1" height="3.6" fill="#6a6a6a"/>
<g fill="none" stroke="#000" stroke-opacity="0.6" stroke-width="3.4">
<rect x="331.7" y="2978.5" width="75.6" height="590"/>
<path d="M331.7 3027.7H407.3"/>
<path d="M331.7 3076.8H407.3"/>
<path d="M331.7 3126H407.3"/>
<path d="M331.7 3175.2H407.3"/>
<path d="M331.7 3224.3H407.3"/>
<path d="M331.7 3273.5H407.3"/>
<path d="M331.7 3322.7H407.3"/>
<path d="M331.7 3371.8H407.3"/>
<path d="M331.7 3421H407.3"/>
<path d="M331.7 3470.2H407.3"/>
<path d="M331.7 3519.3H407.3"/>
</g>
</g>
<g font-family='"DejaVu Sans", "Liberation Sans", sans-serif' font-size="37" fill="#000" stroke="#000" stroke-width="1.5" stroke-linejoin="round">
<text transform="translate(431.5 2995) scale(1.042 1)">+1.856×10<tspan font-size="25.2" dx="0.5" dy="-11.5">-1</tspan></text>
<text transform="translate(431.5 3044.2) scale(1.042 1)">+1.666×10<tspan font-size="25.2" dx="0.5" dy="-11.5">-1</tspan></text>
<text transform="translate(431.5 3093.3) scale(1.042 1)">+1.476×10<tspan font-size="25.2" dx="0.5" dy="-11.5">-1</tspan></text>
<text transform="translate(431.5 3142.5) scale(1.042 1)">+1.285×10<tspan font-size="25.2" dx="0.5" dy="-11.5">-1</tspan></text>
<text transform="translate(431.5 3191.7) scale(1.042 1)">+1.095×10<tspan font-size="25.2" dx="0.5" dy="-11.5">-1</tspan></text>
<text transform="translate(431.5 3240.8) scale(1.042 1)">+9.042×10<tspan font-size="25.2" dx="0.5" dy="-11.5">-2</tspan></text>
<text transform="translate(431.5 3290) scale(1.042 1)">+7.137×10<tspan font-size="25.2" dx="0.5" dy="-11.5">-2</tspan></text>
<text transform="translate(431.5 3339.2) scale(1.042 1)">+5.232×10<tspan font-size="25.2" dx="0.5" dy="-11.5">-2</tspan></text>
<text transform="translate(431.5 3388.3) scale(1.042 1)">+3.328×10<tspan font-size="25.2" dx="0.5" dy="-11.5">-2</tspan></text>
<text transform="translate(431.5 3437.5) scale(1.042 1)">+1.423×10<tspan font-size="25.2" dx="0.5" dy="-11.5">-2</tspan></text>
<text transform="translate(431.5 3486.7) scale(1.042 1)">-4.814×10<tspan font-size="25.2" dx="0.5" dy="-11.5">-3</tspan></text>
<text transform="translate(431.5 3535.8) scale(1.042 1)">-2.386×10<tspan font-size="25.2" dx="0.5" dy="-11.5">-2</tspan></text>
<text transform="translate(431.5 3585) scale(1.042 1)">-4.291×10<tspan font-size="25.2" dx="0.5" dy="-11.5">-2</tspan></text>
</g>
</g>
<g filter="url(#soft)">
<clipPath id="sc1"><path d="M1419.6 569.3L1614.7 712.6A77 28.1 0 0 0 1752.7 712.6L1947.8 569.3Z"/></clipPath>
<linearGradient id="sg1" gradientUnits="userSpaceOnUse" x1="1388.9" y1="0" x2="1978.5" y2="0"><stop offset="0.08" stop-color="#0000cd"/><stop offset="0.5" stop-color="#0000a8"/><stop offset="0.92" stop-color="#0000cd"/></linearGradient>
<path fill="url(#sg1)" d="M1419.6 569.3L1614.7 712.6A77 28.1 0 0 0 1752.7 712.6L1947.8 569.3Z"/>
<g clip-path="url(#sc1)"><linearGradient id="bg1_0" gradientUnits="userSpaceOnUse" x1="1468.7" y1="0" x2="1898.7" y2="0"><stop offset="0" stop-color="#0636c3" stop-opacity="0"/><stop offset="0.25" stop-color="#0636c3" stop-opacity="0.95"/><stop offset="0.75" stop-color="#0636c3" stop-opacity="0.95"/><stop offset="1" stop-color="#0636c3" stop-opacity="0"/></linearGradient><ellipse cx="1683.7" cy="534.5" rx="290.4" ry="105.9" fill="none" stroke="url(#bg1_0)" stroke-width="20"/><path d="M1604.7 700.1A79 30.1 0 0 0 1762.7 700.1A79 15.1 0 0 1 1604.7 700.1Z" fill="#0636c3" fill-opacity="0.9"/></g>
<ellipse cx="1683.7" cy="525" rx="294.8" ry="107.5" fill="#00104a" fill-opacity="0.75"/>
<clipPath id="dc1"><ellipse cx="1683.7" cy="521.5" rx="294.8" ry="107.5"/></clipPath>
<ellipse cx="1683.7" cy="521.5" rx="294.8" ry="107.5" fill="#0101e1"/>
<g clip-path="url(#dc1)">

<clipPath id="hc1_0t"><rect x="1532.5" y="409" width="280" height="30.2"/></clipPath>
<g clip-path="url(#hc1_0t)">
<ellipse cx="1672.5" cy="439" rx="134" ry="24" fill="url(#rampGO)"/>
<ellipse cx="1672.5" cy="439" rx="73.7" ry="8.6" fill="url(#rampGM)"/>
</g>
<clipPath id="hc1_0b"><rect x="1532.5" y="438.8" width="280" height="21"/></clipPath>
<g clip-path="url(#hc1_0b)">
<ellipse cx="1672.5" cy="439" rx="134" ry="15" fill="url(#rampGO)"/>
<ellipse cx="1672.5" cy="439" rx="73.7" ry="5.4" fill="url(#rampGM)"/>
</g>
<clipPath id="hc1_1t"><rect x="1521" y="570" width="348" height="22.2"/></clipPath>
<g clip-path="url(#hc1_1t)">
<ellipse cx="1695" cy="592" rx="168" ry="16" fill="url(#rampGO)"/>
<ellipse cx="1695" cy="592" rx="87.4" ry="5.8" fill="url(#rampGM)"/>
</g>
<clipPath id="hc1_1b"><rect x="1521" y="591.8" width="348" height="39"/></clipPath>
<g clip-path="url(#hc1_1b)">
<ellipse cx="1695" cy="592" rx="168" ry="33" fill="url(#rampGO)"/>
<ellipse cx="1695" cy="592" rx="87.4" ry="11.9" fill="url(#rampGM)"/>
</g>
</g>
<ellipse cx="1683.7" cy="521.5" rx="294.8" ry="107.5" fill="none" stroke="#000a3c" stroke-opacity="0.5" stroke-width="2"/>
</g>
<g filter="url(#soft)">
<clipPath id="sc2"><path d="M776.5 1287.1L973.7 1428A79 29.5 0 0 0 1113.7 1428L1310.9 1287.1Z"/></clipPath>
<linearGradient id="sg2" gradientUnits="userSpaceOnUse" x1="742.3" y1="0" x2="1345.1" y2="0"><stop offset="0.08" stop-color="#0450d7"/><stop offset="0.5" stop-color="#0440b9"/><stop offset="0.92" stop-color="#0450d7"/></linearGradient>
<path fill="url(#sg2)" d="M776.5 1287.1L973.7 1428A79 29.5 0 0 0 1113.7 1428L1310.9 1287.1Z"/>
<g clip-path="url(#sc2)"><linearGradient id="bg2_0" gradientUnits="userSpaceOnUse" x1="913.7" y1="0" x2="1173.7" y2="0"><stop offset="0" stop-color="#1468e1" stop-opacity="0"/><stop offset="0.25" stop-color="#1468e1" stop-opacity="0.8"/><stop offset="0.75" stop-color="#1468e1" stop-opacity="0.8"/><stop offset="1" stop-color="#1468e1" stop-opacity="0"/></linearGradient><ellipse cx="1043.7" cy="1248" rx="296.9" ry="110.8" fill="none" stroke="url(#bg2_0)" stroke-width="16"/><linearGradient id="bg2_451" gradientUnits="userSpaceOnUse" x1="853.7" y1="0" x2="1233.7" y2="0"><stop offset="0" stop-color="#00c8dc" stop-opacity="0"/><stop offset="0.25" stop-color="#00c8dc" stop-opacity="0.85"/><stop offset="0.75" stop-color="#00c8dc" stop-opacity="0.85"/><stop offset="1" stop-color="#00c8dc" stop-opacity="0"/></linearGradient><ellipse cx="1043.7" cy="1242" rx="296.9" ry="110.8" fill="none" stroke="url(#bg2_451)" stroke-width="4"/><path d="M975.8 1421.4A79 29.5 0 0 0 1111.6 1421.4" fill="none" stroke="#00b4dc" stroke-opacity="0.85" stroke-width="4"/></g>
<ellipse cx="1043.7" cy="1238.5" rx="301.4" ry="112.5" fill="#00104a" fill-opacity="0.75"/>
<clipPath id="dc2"><ellipse cx="1043.7" cy="1235" rx="301.4" ry="112.5"/></clipPath>
<ellipse cx="1043.7" cy="1235" rx="301.4" ry="112.5" fill="#0052e1"/>
<g clip-path="url(#dc2)">

<clipPath id="hc2_0t"><rect x="877" y="1114" width="304" height="35.2"/></clipPath>
<g clip-path="url(#hc2_0t)">
<ellipse cx="1029" cy="1149" rx="146" ry="29" fill="url(#rampRO)"/>
<ellipse cx="1029" cy="1149" rx="116.8" ry="18" fill="url(#rampRM)"/>
<ellipse cx="1029" cy="1149" rx="84.7" ry="6.4" fill="url(#rampRC)"/>
</g>
<clipPath id="hc2_0b"><rect x="877" y="1148.8" width="304" height="21"/></clipPath>
<g clip-path="url(#hc2_0b)">
<ellipse cx="1029" cy="1149" rx="146" ry="15" fill="url(#rampRO)"/>
<ellipse cx="1029" cy="1149" rx="116.8" ry="9.3" fill="url(#rampRM)"/>
<ellipse cx="1029" cy="1149" rx="84.7" ry="3.3" fill="url(#rampRC)"/>
</g>
<clipPath id="hc2_1t"><rect x="877" y="1282" width="364" height="21.2"/></clipPath>
<g clip-path="url(#hc2_1t)">
<ellipse cx="1059" cy="1303" rx="176" ry="15" fill="url(#rampRO)"/>
<ellipse cx="1059" cy="1303" rx="140.8" ry="9.3" fill="url(#rampRM)"/>
<ellipse cx="1059" cy="1303" rx="98.6" ry="3.3" fill="url(#rampRC)"/>
</g>
<clipPath id="hc2_1b"><rect x="877" y="1302.8" width="364" height="47"/></clipPath>
<g clip-path="url(#hc2_1b)">
<ellipse cx="1059" cy="1303" rx="176" ry="41" fill="url(#rampRO)"/>
<ellipse cx="1059" cy="1303" rx="140.8" ry="25.4" fill="url(#rampRM)"/>
<ellipse cx="1059" cy="1303" rx="98.6" ry="9" fill="url(#rampRC)"/>
</g>
</g>
<ellipse cx="1043.7" cy="1235" rx="301.4" ry="112.5" fill="none" stroke="#000a3c" stroke-opacity="0.5" stroke-width="2"/>
</g>
<g filter="url(#soft)">
<clipPath id="sc3"><path d="M1444.4 2609.6L1622.6 2724.6A77 33.5 0 0 0 1750.4 2724.6L1928.6 2609.6Z"/></clipPath>
<linearGradient id="sg3" gradientUnits="userSpaceOnUse" x1="1394.7" y1="0" x2="1978.3" y2="0"><stop offset="0.08" stop-color="#0450d7"/><stop offset="0.5" stop-color="#053cad"/><stop offset="0.92" stop-color="#0450d7"/></linearGradient>
<path fill="url(#sg3)" d="M1444.4 2609.6L1622.6 2724.6A77 33.5 0 0 0 1750.4 2724.6L1928.6 2609.6Z"/>
<g clip-path="url(#sc3)"><linearGradient id="bg3_0" gradientUnits="userSpaceOnUse" x1="1611.5" y1="0" x2="1761.5" y2="0"><stop offset="0" stop-color="#00a5dc" stop-opacity="0"/><stop offset="0.25" stop-color="#00a5dc" stop-opacity="0.8"/><stop offset="0.75" stop-color="#00a5dc" stop-opacity="0.8"/><stop offset="1" stop-color="#00a5dc" stop-opacity="0"/></linearGradient><ellipse cx="1686.5" cy="2551.8" rx="287.4" ry="124.9" fill="none" stroke="url(#bg3_0)" stroke-width="10"/><linearGradient id="bg3_454" gradientUnits="userSpaceOnUse" x1="1486.5" y1="0" x2="1886.5" y2="0"><stop offset="0" stop-color="#00b4dc" stop-opacity="0"/><stop offset="0.25" stop-color="#00b4dc" stop-opacity="0.6"/><stop offset="0.75" stop-color="#00b4dc" stop-opacity="0.6"/><stop offset="1" stop-color="#00b4dc" stop-opacity="0"/></linearGradient><ellipse cx="1686.5" cy="2544.8" rx="287.4" ry="124.9" fill="none" stroke="url(#bg3_454)" stroke-width="3"/><path d="M1607.5 2705.9A79 35.5 0 0 0 1765.5 2705.9A79 17.5 0 0 1 1607.5 2705.9Z" fill="#0a96c8" fill-opacity="0.9"/></g>
<ellipse cx="1686.5" cy="2542.3" rx="291.8" ry="126.8" fill="#00104a" fill-opacity="0.75"/>
<clipPath id="dc3"><ellipse cx="1686.5" cy="2538.8" rx="291.8" ry="126.8"/></clipPath>
<ellipse cx="1686.5" cy="2538.8" rx="291.8" ry="126.8" fill="#0053e3"/>
<g clip-path="url(#dc3)">

<clipPath id="hc3_0t"><rect x="1522.8" y="2406" width="328" height="41.2"/></clipPath>
<g clip-path="url(#hc3_0t)">
<ellipse cx="1686.8" cy="2447" rx="158" ry="35" fill="url(#rampRO)"/>
<ellipse cx="1686.8" cy="2447" rx="126.4" ry="21.7" fill="url(#rampRM)"/>
<ellipse cx="1686.8" cy="2447" rx="56.9" ry="7.7" fill="url(#rampRC)"/>
</g>
<clipPath id="hc3_0b"><rect x="1522.8" y="2446.8" width="328" height="25"/></clipPath>
<g clip-path="url(#hc3_0b)">
<ellipse cx="1686.8" cy="2447" rx="158" ry="19" fill="url(#rampRO)"/>
<ellipse cx="1686.8" cy="2447" rx="126.4" ry="11.8" fill="url(#rampRM)"/>
<ellipse cx="1686.8" cy="2447" rx="56.9" ry="4.2" fill="url(#rampRC)"/>
</g>
<clipPath id="hc3_1t"><rect x="1493" y="2591.8" width="386" height="27.2"/></clipPath>
<g clip-path="url(#hc3_1t)">
<ellipse cx="1686" cy="2618.8" rx="187" ry="21" fill="url(#rampRO)"/>
<ellipse cx="1686" cy="2618.8" rx="149.6" ry="13" fill="url(#rampRM)"/>
<ellipse cx="1686" cy="2618.8" rx="67.3" ry="4.6" fill="url(#rampRC)"/>
</g>
<clipPath id="hc3_1b"><rect x="1493" y="2618.6" width="386" height="54"/></clipPath>
<g clip-path="url(#hc3_1b)">
<ellipse cx="1686" cy="2618.8" rx="187" ry="48" fill="url(#rampRO)"/>
<ellipse cx="1686" cy="2618.8" rx="149.6" ry="29.8" fill="url(#rampRM)"/>
<ellipse cx="1686" cy="2618.8" rx="67.3" ry="10.6" fill="url(#rampRC)"/>
</g>
</g>
<ellipse cx="1686.5" cy="2538.8" rx="291.8" ry="126.8" fill="none" stroke="#000a3c" stroke-opacity="0.5" stroke-width="2"/>
</g>
<g filter="url(#soft)">
<clipPath id="sc4"><path d="M839.4 3333L1021.4 3449A78 33.9 0 0 0 1150.2 3449L1332.2 3333Z"/></clipPath>
<linearGradient id="sg4" gradientUnits="userSpaceOnUse" x1="787.6" y1="0" x2="1384" y2="0"><stop offset="0.08" stop-color="#0596d7"/><stop offset="0.5" stop-color="#0580c3"/><stop offset="0.92" stop-color="#0596d7"/></linearGradient>
<path fill="url(#sg4)" d="M839.4 3333L1021.4 3449A78 33.9 0 0 0 1150.2 3449L1332.2 3333Z"/>
<g clip-path="url(#sc4)"><linearGradient id="bg4_0" gradientUnits="userSpaceOnUse" x1="1023.8" y1="0" x2="1147.8" y2="0"><stop offset="0" stop-color="#1ed2a0" stop-opacity="0"/><stop offset="0.25" stop-color="#1ed2a0" stop-opacity="0.85"/><stop offset="0.75" stop-color="#1ed2a0" stop-opacity="0.85"/><stop offset="1" stop-color="#1ed2a0" stop-opacity="0"/></linearGradient><ellipse cx="1085.8" cy="3274" rx="293.7" ry="127.7" fill="none" stroke="url(#bg4_0)" stroke-width="12"/><path d="M1005.8 3429.9A80 35.9 0 0 0 1165.8 3429.9A80 11.9 0 0 1 1005.8 3429.9Z" fill="#32d264" fill-opacity="0.95"/></g>
<ellipse cx="1085.8" cy="3263.5" rx="298.2" ry="129.6" fill="#00104a" fill-opacity="0.75"/>
<clipPath id="dc4"><ellipse cx="1085.8" cy="3260" rx="298.2" ry="129.6"/></clipPath>
<ellipse cx="1085.8" cy="3260" rx="298.2" ry="129.6" fill="#00a5e4"/>
<g clip-path="url(#dc4)">

<clipPath id="hc4_0t"><rect x="916.8" y="3123" width="336" height="44.2"/></clipPath>
<g clip-path="url(#hc4_0t)">
<ellipse cx="1084.8" cy="3167" rx="162" ry="38" fill="url(#rampRO)"/>
<ellipse cx="1084.8" cy="3167" rx="129.6" ry="23.6" fill="url(#rampRM)"/>
<ellipse cx="1084.8" cy="3167" rx="48.6" ry="8.4" fill="url(#rampRC)"/>
</g>
<clipPath id="hc4_0b"><rect x="916.8" y="3166.8" width="336" height="23"/></clipPath>
<g clip-path="url(#hc4_0b)">
<ellipse cx="1084.8" cy="3167" rx="162" ry="17" fill="url(#rampRO)"/>
<ellipse cx="1084.8" cy="3167" rx="129.6" ry="10.5" fill="url(#rampRM)"/>
<ellipse cx="1084.8" cy="3167" rx="48.6" ry="3.7" fill="url(#rampRC)"/>
</g>
<clipPath id="hc4_1t"><rect x="888" y="3314.3" width="396" height="21.2"/></clipPath>
<g clip-path="url(#hc4_1t)">
<ellipse cx="1086" cy="3335.3" rx="192" ry="15" fill="url(#rampRO)"/>
<ellipse cx="1086" cy="3335.3" rx="153.6" ry="9.3" fill="url(#rampRM)"/>
<ellipse cx="1086" cy="3335.3" rx="57.6" ry="3.3" fill="url(#rampRC)"/>
</g>
<clipPath id="hc4_1b"><rect x="888" y="3335.1" width="396" height="60"/></clipPath>
<g clip-path="url(#hc4_1b)">
<ellipse cx="1086" cy="3335.3" rx="192" ry="54" fill="url(#rampRO)"/>
<ellipse cx="1086" cy="3335.3" rx="153.6" ry="33.5" fill="url(#rampRM)"/>
<ellipse cx="1086" cy="3335.3" rx="57.6" ry="11.9" fill="url(#rampRC)"/>
</g>
</g>
<ellipse cx="1085.8" cy="3260" rx="298.2" ry="129.6" fill="none" stroke="#000a3c" stroke-opacity="0.5" stroke-width="2"/>
</g>
<path fill="#000" d="M1923.8 460.4L2052.1 390.6L2056.7 399.1L2098.6 361L2043.8 375.4L2048.5 384L1920.2 453.8Z"/>
<path fill="#000" d="M1185.8 1372.4L1267.8 1462.9L1259.8 1470.1L1306.3 1499.5L1281.6 1450.3L1273.6 1457.6L1191.6 1367.2Z"/>
<path fill="#000" d="M1915.7 2620.5L2057.5 2683.3L2053.5 2692.3L2111.2 2702.8L2064.7 2667.1L2060.7 2676L1918.9 2613.1Z"/>
<path fill="#000" d="M1299.3 3373.2L1450.6 3458.6L1446.8 3465.3L1502.3 3482.9L1458.6 3444.4L1454.8 3451.2L1303.5 3365.8Z"/>
<g font-family='"Liberation Serif", serif' font-size="88" fill="#000">
<text x="40" y="2041.6">(<tspan font-weight="bold">a</tspan>)</text>
<text x="40" y="4065.5">(<tspan font-weight="bold">b</tspan>)</text>
</g>
</svg></body></html>
